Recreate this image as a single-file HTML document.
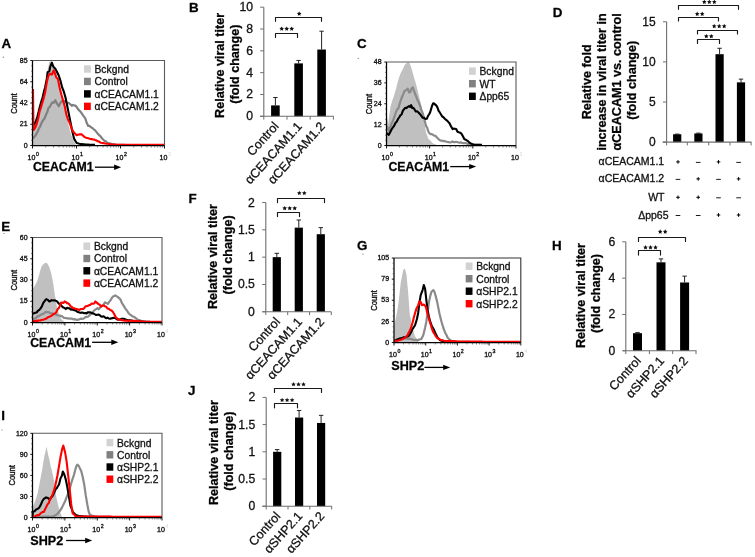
<!DOCTYPE html>
<html><head><meta charset="utf-8"><style>
html,body{margin:0;padding:0;background:#fff;}
body{width:755px;height:557px;overflow:hidden;}
svg{display:block;font-family:"Liberation Sans", sans-serif;will-change:transform;}
text{stroke:#111;stroke-width:0.3px;}
text.ns{stroke:none;}
</style></head><body>
<svg width="755" height="557" viewBox="0 0 755 557">
<rect width="755" height="557" fill="#fff"/>
<polygon points="32.5,145.5 33.12,128.42 34.26,126.2 35.4,124.64 36.54,123.29 37.68,119.08 38.81,115.9 39.95,111.34 41.09,105.44 42.23,101.46 43.37,95.98 44.65,88.96 45.93,80.61 47.63,70.37 49.34,61.83 51.05,61.49 52.76,65.24 54.04,66.97 55.32,70.37 56.6,74.08 57.88,80.61 59.16,85.04 60.44,89.15 61.72,95.19 63,99.39 64.28,105.63 65.56,111.34 66.84,117.31 68.12,123.29 69.4,128.53 70.68,133.54 71.96,136.87 73.25,140.37 74.53,142.51 75.81,144.98 75.81,145.5" fill="#c0c0c0"/><polyline points="33.12,138.66 34.26,136.75 35.4,135.78 36.54,133.54 37.68,131.62 38.81,128.62 39.95,126.71 41.09,124.15 42.23,121.55 43.37,119.88 44.65,118.21 45.93,114.76 47.21,112.33 48.49,107.93 49.77,106.69 51.05,104.51 52.33,102.28 53.61,102.81 55.32,100.25 57.03,103.66 58.73,106.22 60.44,102.81 62.15,101.1 63.85,101.1 65.56,101.95 66.84,102.7 68.12,102.81 69.4,103.56 70.68,104.51 71.82,105.8 72.96,104.94 74.1,105.37 75.38,105.58 76.66,107.07 78.37,109.64 80.07,111.34 81.35,112.81 82.64,114.76 83.92,116.61 85.2,118.17 86.9,123.29 88.18,125.99 89.46,125.86 90.6,126.83 91.74,127.71 92.88,128.42 94.02,129.53 95.16,130.42 96.29,131.83 97.66,133.52 99.02,135.08 100.38,136.2 101.74,138.01 103.1,139.5 104.45,140.74 105.8,141.35 107.15,142.76 108.5,143.3 109.75,143.28 111,143.88 112.25,144.1 113.5,144.37 114.75,144.63 116,144.9 117.29,144.9 118.57,144.9 119.86,144.9 121.14,144.9 122.43,144.9 123.71,144.9 125,144.9" fill="none" stroke="#808080" stroke-width="2.2" stroke-linejoin="round"/><polyline points="33.12,125.86 34.83,123.29 36.11,120.63 37.39,116.46 38.67,111.59 39.95,106.22 41.23,101.9 42.51,97.68 43.79,92.14 45.07,87.44 46.78,78.9 47.63,72.07 49.34,71.22 50.2,66.95 51.9,62.68 52.76,65.24 53.61,66.95 55.32,68.66 57.03,72.07 58.73,75.49 60.44,80.61 62.15,87.44 63.85,91.71 65.56,97.68 67.27,106.22 68.98,114.76 70.68,123.29 72.39,131.83 74.1,138.66 75.38,140.85 76.66,142.93 77.94,143.33 79.22,143.78 80.5,143.92 81.78,144.06 83.06,144.19 84.34,144.33 85.62,144.46 86.9,144.6 88.25,144.65 89.6,144.7 90.95,144.75 92.3,144.8 93.65,144.85 95,144.9" fill="none" stroke="#000" stroke-width="2.1" stroke-linejoin="round"/><polyline points="33,89 33.46,130.12 34.57,128.82 35.68,126.71 36.96,123.04 38.24,118.17 39.52,111.75 40.81,107.93 42.09,103.37 43.37,99.39 45.07,92.56 46.78,82.32 48.49,75.49 50.2,73.78 51.9,74.63 53.61,70.37 54.46,72.07 56.17,77.2 57.88,78.9 59.59,87.44 61.29,94.27 63,100.25 64.71,106.22 66.42,114.76 68.12,119.88 69.83,123.29 71.54,128.42 73.25,131.83 74.95,133.54 76.66,135.25 77.94,134.8 79.22,134.39 80.5,134.24 81.78,134.39 83.49,136.1 84.77,137.16 86.05,137.81 87.19,137.97 88.33,138.25 89.46,138.66 90.6,139.16 91.74,139.05 92.88,139.51 94.02,139.54 95.16,140.06 96.29,140.37 97.45,141.06 98.6,141.46 99.75,142.05 100.9,142.8 102.25,142.98 103.6,143.12 104.95,143.56 106.3,143.72 107.65,143.68 109,144 110.35,144.2 111.7,144.4 112.95,144.48 114.2,144.57 115.45,144.65 116.7,144.73 117.95,144.82 119.2,144.9 120.52,144.9 121.84,144.9 123.15,144.9 124.47,144.9 125.79,144.9 127.11,144.9 128.42,144.9 129.74,144.9 131.06,144.9 132.38,144.9 133.69,144.9 135.01,144.9 136.33,144.9 137.65,144.9 138.96,144.9 140.28,144.9 141.6,144.9 142.92,144.9 144.24,144.9 145.55,144.9 146.87,144.9 148.19,144.9 149.51,144.9 150.82,144.9 152.14,144.9 153.46,144.9 154.78,144.9 156.09,144.9 157.41,144.9 158.73,144.9 160.05,144.9 161.36,144.9 162.68,144.9 164,144.9" fill="none" stroke="#ff0000" stroke-width="2.1" stroke-linejoin="round"/><path d="M32.5 60.5 H164.5 V145.5" fill="none" stroke="#5a5a5a" stroke-width="1.1"/><path d="M32.5 60.5 V145.5 H164.5" fill="none" stroke="#000" stroke-width="1.25"/><line x1="30.3" y1="60.5" x2="32.5" y2="60.5" stroke="#000" stroke-width="0.9"/><text transform="translate(27.7 62.7) scale(1.1 1)" font-size="6.4" text-anchor="end" font-weight="normal" fill="#111" >85</text><line x1="31.1" y1="65.81" x2="32.5" y2="65.81" stroke="#333" stroke-width="0.6"/><line x1="31.1" y1="71.12" x2="32.5" y2="71.12" stroke="#333" stroke-width="0.6"/><line x1="31.1" y1="76.44" x2="32.5" y2="76.44" stroke="#333" stroke-width="0.6"/><line x1="30.3" y1="81.75" x2="32.5" y2="81.75" stroke="#000" stroke-width="0.9"/><text transform="translate(27.7 83.95) scale(1.1 1)" font-size="6.4" text-anchor="end" font-weight="normal" fill="#111" >64</text><line x1="31.1" y1="87.06" x2="32.5" y2="87.06" stroke="#333" stroke-width="0.6"/><line x1="31.1" y1="92.38" x2="32.5" y2="92.38" stroke="#333" stroke-width="0.6"/><line x1="31.1" y1="97.69" x2="32.5" y2="97.69" stroke="#333" stroke-width="0.6"/><line x1="30.3" y1="103" x2="32.5" y2="103" stroke="#000" stroke-width="0.9"/><text transform="translate(27.7 105.2) scale(1.1 1)" font-size="6.4" text-anchor="end" font-weight="normal" fill="#111" >42</text><line x1="31.1" y1="108.31" x2="32.5" y2="108.31" stroke="#333" stroke-width="0.6"/><line x1="31.1" y1="113.62" x2="32.5" y2="113.62" stroke="#333" stroke-width="0.6"/><line x1="31.1" y1="118.94" x2="32.5" y2="118.94" stroke="#333" stroke-width="0.6"/><line x1="30.3" y1="124.25" x2="32.5" y2="124.25" stroke="#000" stroke-width="0.9"/><text transform="translate(27.7 126.45) scale(1.1 1)" font-size="6.4" text-anchor="end" font-weight="normal" fill="#111" >21</text><line x1="31.1" y1="129.56" x2="32.5" y2="129.56" stroke="#333" stroke-width="0.6"/><line x1="31.1" y1="134.88" x2="32.5" y2="134.88" stroke="#333" stroke-width="0.6"/><line x1="31.1" y1="140.19" x2="32.5" y2="140.19" stroke="#333" stroke-width="0.6"/><line x1="30.3" y1="145.5" x2="32.5" y2="145.5" stroke="#000" stroke-width="0.9"/><text transform="translate(27.7 147.7) scale(1.1 1)" font-size="6.4" text-anchor="end" font-weight="normal" fill="#111" >0</text><line x1="32.5" y1="145.5" x2="32.5" y2="148.5" stroke="#000" stroke-width="0.9"/><line x1="45.75" y1="145.5" x2="45.75" y2="147.5" stroke="#333" stroke-width="0.6"/><line x1="53.49" y1="145.5" x2="53.49" y2="147.5" stroke="#333" stroke-width="0.6"/><line x1="58.99" y1="145.5" x2="58.99" y2="147.5" stroke="#333" stroke-width="0.6"/><line x1="63.25" y1="145.5" x2="63.25" y2="147.5" stroke="#333" stroke-width="0.6"/><line x1="66.74" y1="145.5" x2="66.74" y2="147.5" stroke="#333" stroke-width="0.6"/><line x1="69.68" y1="145.5" x2="69.68" y2="147.5" stroke="#333" stroke-width="0.6"/><line x1="72.24" y1="145.5" x2="72.24" y2="147.5" stroke="#333" stroke-width="0.6"/><line x1="74.49" y1="145.5" x2="74.49" y2="147.5" stroke="#333" stroke-width="0.6"/><text transform="translate(31.5 159.7) scale(1.1 1)" font-size="6.4" text-anchor="middle" font-weight="normal" fill="#111" >10</text><text transform="translate(35.9 155.5) scale(1.1 1)" font-size="4.8" text-anchor="start" font-weight="normal" fill="#111" >0</text><line x1="76.5" y1="145.5" x2="76.5" y2="148.5" stroke="#000" stroke-width="0.9"/><line x1="89.75" y1="145.5" x2="89.75" y2="147.5" stroke="#333" stroke-width="0.6"/><line x1="97.49" y1="145.5" x2="97.49" y2="147.5" stroke="#333" stroke-width="0.6"/><line x1="102.99" y1="145.5" x2="102.99" y2="147.5" stroke="#333" stroke-width="0.6"/><line x1="107.25" y1="145.5" x2="107.25" y2="147.5" stroke="#333" stroke-width="0.6"/><line x1="110.74" y1="145.5" x2="110.74" y2="147.5" stroke="#333" stroke-width="0.6"/><line x1="113.68" y1="145.5" x2="113.68" y2="147.5" stroke="#333" stroke-width="0.6"/><line x1="116.24" y1="145.5" x2="116.24" y2="147.5" stroke="#333" stroke-width="0.6"/><line x1="118.49" y1="145.5" x2="118.49" y2="147.5" stroke="#333" stroke-width="0.6"/><text transform="translate(75.5 159.7) scale(1.1 1)" font-size="6.4" text-anchor="middle" font-weight="normal" fill="#111" >10</text><text transform="translate(79.9 155.5) scale(1.1 1)" font-size="4.8" text-anchor="start" font-weight="normal" fill="#111" >1</text><line x1="120.5" y1="145.5" x2="120.5" y2="148.5" stroke="#000" stroke-width="0.9"/><line x1="133.75" y1="145.5" x2="133.75" y2="147.5" stroke="#333" stroke-width="0.6"/><line x1="141.49" y1="145.5" x2="141.49" y2="147.5" stroke="#333" stroke-width="0.6"/><line x1="146.99" y1="145.5" x2="146.99" y2="147.5" stroke="#333" stroke-width="0.6"/><line x1="151.25" y1="145.5" x2="151.25" y2="147.5" stroke="#333" stroke-width="0.6"/><line x1="154.74" y1="145.5" x2="154.74" y2="147.5" stroke="#333" stroke-width="0.6"/><line x1="157.68" y1="145.5" x2="157.68" y2="147.5" stroke="#333" stroke-width="0.6"/><line x1="160.24" y1="145.5" x2="160.24" y2="147.5" stroke="#333" stroke-width="0.6"/><line x1="162.49" y1="145.5" x2="162.49" y2="147.5" stroke="#333" stroke-width="0.6"/><text transform="translate(119.5 159.7) scale(1.1 1)" font-size="6.4" text-anchor="middle" font-weight="normal" fill="#111" >10</text><text transform="translate(123.9 155.5) scale(1.1 1)" font-size="4.8" text-anchor="start" font-weight="normal" fill="#111" >2</text><line x1="164.5" y1="145.5" x2="164.5" y2="148.5" stroke="#000" stroke-width="0.9"/><text transform="translate(163.5 159.7) scale(1.1 1)" font-size="6.4" text-anchor="middle" font-weight="normal" fill="#111" >10</text><text transform="translate(167.9 155.5) scale(1.1 1)" font-size="4.8" text-anchor="start" font-weight="normal" fill="#d8d8d8" class="ns">3</text><text transform="translate(17.4 103.5) scale(1.28 1) rotate(-90)" font-size="7.7" text-anchor="middle" font-weight="normal" fill="#111" >Count</text><rect x="84" y="65.3" width="6.8" height="7.4" fill="#d2d2d2"/><text transform="translate(94.5 72.9) scale(1.01 1)" font-size="10.2" text-anchor="start" font-weight="normal" fill="#111" >Bckgnd</text><rect x="84" y="77.75" width="6.8" height="7.4" fill="#808080"/><text transform="translate(94.5 85.35) scale(1.01 1)" font-size="10.2" text-anchor="start" font-weight="normal" fill="#111" >Control</text><rect x="84" y="90.2" width="6.8" height="7.4" fill="#000"/><text transform="translate(94.5 97.8) scale(1.01 1)" font-size="10.2" text-anchor="start" font-weight="normal" fill="#111" >&#945;CEACAM1.1</text><rect x="84" y="102.65" width="6.8" height="7.4" fill="#ff0000"/><text transform="translate(94.5 110.25) scale(1.01 1)" font-size="10.2" text-anchor="start" font-weight="normal" fill="#111" >&#945;CEACAM1.2</text><text x="32.9" y="171.1" font-size="12.3" text-anchor="start" font-weight="bold" fill="#000" >CEACAM1</text><line x1="94.9" y1="167.2" x2="116.1" y2="167.2" stroke="#000" stroke-width="1.3"/><polygon points="114.1,164.5 121.1,167.2 114.1,169.9" fill="#000"/><text x="1.5" y="47.9" font-size="13.4" text-anchor="start" font-weight="bold" fill="#000" >A</text><circle cx="3.3" cy="57.2" r="0.6" fill="#666"/><polygon points="386.5,145.5 386.6,113 388.2,124 389.35,114.82 390.5,106.5 392.1,101.1 393.7,96.8 394.9,92.45 396.1,88.7 397.35,83.22 398.6,79 400.2,74.21 401.8,70.9 403.4,67.9 405,64.5 406.45,63.35 407.9,62 409.3,62.83 410.7,66.1 411.9,69.68 413.1,74.2 414.3,78.58 415.5,82.3 416.75,86.99 418,92 419.2,96.92 420.4,101.7 421.6,107.72 422.8,113 424.4,122.7 426,132.4 427.25,135.77 428.5,138.9 429.83,140.12 431.17,141.62 432.5,142.9 433.6,143.73 434.7,143.9 435.8,144.5 436.9,145 438,145.5 438,145.5" fill="#c0c0c0"/><polyline points="386.6,126 387.7,127.76 388.8,131 390.17,127.27 391.53,123.74 392.9,120.8 394.45,116.73 396,112 397.17,109.34 398.33,108.62 399.5,104.3 400.75,100.42 402,97 403.25,94.11 404.5,91 405.6,90.31 406.7,89.54 407.8,88.6 409.05,92.43 410.3,91.9 411.55,88.55 412.8,87.4 414.4,92.01 416,96 417.4,99.71 418.8,102.51 420.2,106 421.3,109.9 422.4,112.43 423.5,115.9 424.75,120.95 426,125.8 427.1,127.56 428.2,131.19 429.3,133.2 430.52,134.16 431.75,134.11 432.98,134.81 434.2,135.7 435.45,135.78 436.7,137.33 437.95,138.57 439.2,139.8 440.52,140.63 441.84,140.58 443.16,141.15 444.48,140.96 445.8,141.5 447.2,141.85 448.6,142.07 450,142.5 451.18,142.22 452.36,141.48 453.54,142.13 454.72,142.12 455.9,141.8 457.12,142 458.34,142.48 459.56,142.57 460.78,142.31 462,143 463.5,143.12 465,143.04 466.5,143.4 467.82,143.92 469.15,144.15 470.48,144.53 471.8,144.9 473.17,144.9 474.53,144.9 475.9,144.9 477.27,144.9 478.63,144.9 480,144.9" fill="none" stroke="#8a8a8a" stroke-width="2.2" stroke-linejoin="round"/><polyline points="386.6,133 387.7,134.02 388.8,134.9 390.17,132.18 391.53,129.51 392.9,127.4 394.15,125.75 395.4,122.98 396.65,121.82 397.9,119.2 399.12,117.49 400.35,115.38 401.57,114.48 402.8,110.9 404.05,109.15 405.3,107.83 406.55,108.11 407.8,106.8 408.9,106.14 410,107 411.1,105.1 412.2,108.12 413.3,107.77 414.4,109.2 415.77,111.45 417.13,111.3 418.5,112.5 419.9,113.98 421.3,115.91 422.7,117.8 424.07,117.84 425.43,118.96 426.8,118.8 427.9,116.16 429,114.49 430.1,112.5 432,106 433.1,103.35 434.2,103.5 435.3,104.66 436.4,105.63 437.5,107.6 438.63,110.93 439.77,112.47 440.9,114.2 442.05,116.28 443.2,117 444.8,118.7 446.4,120.1 447.95,121.62 449.5,123.3 451.1,126.43 452.7,129.1 453.75,128.66 454.8,128.8 456.15,128.99 457.5,131.8 458.73,132.31 459.97,132.62 461.2,133.4 462.8,135.99 464.4,139.2 465.95,139.77 467.5,140.8 469.1,142.27 470.7,143.4 472.13,144.04 473.57,144.4 475,144.9 476.4,144.9 477.8,144.9 479.2,144.9 480.6,144.9 482,144.9" fill="none" stroke="#000" stroke-width="2.1" stroke-linejoin="round"/><path d="M386.5 62 H516 V145.5" fill="none" stroke="#5a5a5a" stroke-width="1.1"/><path d="M386.5 62 V145.5 H516" fill="none" stroke="#000" stroke-width="1.25"/><line x1="384.3" y1="62" x2="386.5" y2="62" stroke="#000" stroke-width="0.9"/><text transform="translate(381.7 64.2) scale(1.1 1)" font-size="6.4" text-anchor="end" font-weight="normal" fill="#111" >48</text><line x1="385.1" y1="67.22" x2="386.5" y2="67.22" stroke="#333" stroke-width="0.6"/><line x1="385.1" y1="72.44" x2="386.5" y2="72.44" stroke="#333" stroke-width="0.6"/><line x1="385.1" y1="77.66" x2="386.5" y2="77.66" stroke="#333" stroke-width="0.6"/><line x1="384.3" y1="82.88" x2="386.5" y2="82.88" stroke="#000" stroke-width="0.9"/><text transform="translate(381.7 85.08) scale(1.1 1)" font-size="6.4" text-anchor="end" font-weight="normal" fill="#111" >36</text><line x1="385.1" y1="88.09" x2="386.5" y2="88.09" stroke="#333" stroke-width="0.6"/><line x1="385.1" y1="93.31" x2="386.5" y2="93.31" stroke="#333" stroke-width="0.6"/><line x1="385.1" y1="98.53" x2="386.5" y2="98.53" stroke="#333" stroke-width="0.6"/><line x1="384.3" y1="103.75" x2="386.5" y2="103.75" stroke="#000" stroke-width="0.9"/><text transform="translate(381.7 105.95) scale(1.1 1)" font-size="6.4" text-anchor="end" font-weight="normal" fill="#111" >24</text><line x1="385.1" y1="108.97" x2="386.5" y2="108.97" stroke="#333" stroke-width="0.6"/><line x1="385.1" y1="114.19" x2="386.5" y2="114.19" stroke="#333" stroke-width="0.6"/><line x1="385.1" y1="119.41" x2="386.5" y2="119.41" stroke="#333" stroke-width="0.6"/><line x1="384.3" y1="124.62" x2="386.5" y2="124.62" stroke="#000" stroke-width="0.9"/><text transform="translate(381.7 126.83) scale(1.1 1)" font-size="6.4" text-anchor="end" font-weight="normal" fill="#111" >12</text><line x1="385.1" y1="129.84" x2="386.5" y2="129.84" stroke="#333" stroke-width="0.6"/><line x1="385.1" y1="135.06" x2="386.5" y2="135.06" stroke="#333" stroke-width="0.6"/><line x1="385.1" y1="140.28" x2="386.5" y2="140.28" stroke="#333" stroke-width="0.6"/><line x1="384.3" y1="145.5" x2="386.5" y2="145.5" stroke="#000" stroke-width="0.9"/><text transform="translate(381.7 147.7) scale(1.1 1)" font-size="6.4" text-anchor="end" font-weight="normal" fill="#111" >0</text><line x1="386.5" y1="145.5" x2="386.5" y2="148.5" stroke="#000" stroke-width="0.9"/><line x1="399.49" y1="145.5" x2="399.49" y2="147.5" stroke="#333" stroke-width="0.6"/><line x1="407.1" y1="145.5" x2="407.1" y2="147.5" stroke="#333" stroke-width="0.6"/><line x1="412.49" y1="145.5" x2="412.49" y2="147.5" stroke="#333" stroke-width="0.6"/><line x1="416.67" y1="145.5" x2="416.67" y2="147.5" stroke="#333" stroke-width="0.6"/><line x1="420.09" y1="145.5" x2="420.09" y2="147.5" stroke="#333" stroke-width="0.6"/><line x1="422.98" y1="145.5" x2="422.98" y2="147.5" stroke="#333" stroke-width="0.6"/><line x1="425.48" y1="145.5" x2="425.48" y2="147.5" stroke="#333" stroke-width="0.6"/><line x1="427.69" y1="145.5" x2="427.69" y2="147.5" stroke="#333" stroke-width="0.6"/><text transform="translate(385.5 159.7) scale(1.1 1)" font-size="6.4" text-anchor="middle" font-weight="normal" fill="#111" >10</text><text transform="translate(389.9 155.5) scale(1.1 1)" font-size="4.8" text-anchor="start" font-weight="normal" fill="#111" >0</text><line x1="429.67" y1="145.5" x2="429.67" y2="148.5" stroke="#000" stroke-width="0.9"/><line x1="442.66" y1="145.5" x2="442.66" y2="147.5" stroke="#333" stroke-width="0.6"/><line x1="450.26" y1="145.5" x2="450.26" y2="147.5" stroke="#333" stroke-width="0.6"/><line x1="455.66" y1="145.5" x2="455.66" y2="147.5" stroke="#333" stroke-width="0.6"/><line x1="459.84" y1="145.5" x2="459.84" y2="147.5" stroke="#333" stroke-width="0.6"/><line x1="463.26" y1="145.5" x2="463.26" y2="147.5" stroke="#333" stroke-width="0.6"/><line x1="466.15" y1="145.5" x2="466.15" y2="147.5" stroke="#333" stroke-width="0.6"/><line x1="468.65" y1="145.5" x2="468.65" y2="147.5" stroke="#333" stroke-width="0.6"/><line x1="470.86" y1="145.5" x2="470.86" y2="147.5" stroke="#333" stroke-width="0.6"/><text transform="translate(428.67 159.7) scale(1.1 1)" font-size="6.4" text-anchor="middle" font-weight="normal" fill="#111" >10</text><text transform="translate(433.07 155.5) scale(1.1 1)" font-size="4.8" text-anchor="start" font-weight="normal" fill="#111" >1</text><line x1="472.83" y1="145.5" x2="472.83" y2="148.5" stroke="#000" stroke-width="0.9"/><line x1="485.83" y1="145.5" x2="485.83" y2="147.5" stroke="#333" stroke-width="0.6"/><line x1="493.43" y1="145.5" x2="493.43" y2="147.5" stroke="#333" stroke-width="0.6"/><line x1="498.82" y1="145.5" x2="498.82" y2="147.5" stroke="#333" stroke-width="0.6"/><line x1="503.01" y1="145.5" x2="503.01" y2="147.5" stroke="#333" stroke-width="0.6"/><line x1="506.42" y1="145.5" x2="506.42" y2="147.5" stroke="#333" stroke-width="0.6"/><line x1="509.31" y1="145.5" x2="509.31" y2="147.5" stroke="#333" stroke-width="0.6"/><line x1="511.82" y1="145.5" x2="511.82" y2="147.5" stroke="#333" stroke-width="0.6"/><line x1="514.02" y1="145.5" x2="514.02" y2="147.5" stroke="#333" stroke-width="0.6"/><text transform="translate(471.83 159.7) scale(1.1 1)" font-size="6.4" text-anchor="middle" font-weight="normal" fill="#111" >10</text><text transform="translate(476.23 155.5) scale(1.1 1)" font-size="4.8" text-anchor="start" font-weight="normal" fill="#111" >2</text><line x1="516" y1="145.5" x2="516" y2="148.5" stroke="#000" stroke-width="0.9"/><text transform="translate(515 159.7) scale(1.1 1)" font-size="6.4" text-anchor="middle" font-weight="normal" fill="#111" >10</text><text transform="translate(519.4 155.5) scale(1.1 1)" font-size="4.8" text-anchor="start" font-weight="normal" fill="#d8d8d8" class="ns">3</text><text transform="translate(371.5 104) scale(1.28 1) rotate(-90)" font-size="7.7" text-anchor="middle" font-weight="normal" fill="#111" >Count</text><rect x="469" y="67.4" width="6.8" height="7.4" fill="#d2d2d2"/><text transform="translate(479.5 75) scale(1.01 1)" font-size="10.2" text-anchor="start" font-weight="normal" fill="#111" >Bckgnd</text><rect x="469" y="80" width="6.8" height="7.4" fill="#808080"/><text transform="translate(479.5 87.6) scale(1.01 1)" font-size="10.2" text-anchor="start" font-weight="normal" fill="#111" >WT</text><rect x="469" y="92.6" width="6.8" height="7.4" fill="#000"/><text transform="translate(479.5 100.2) scale(1.01 1)" font-size="10.2" text-anchor="start" font-weight="normal" fill="#111" >&#916;pp65</text><text x="388.4" y="170.5" font-size="12.3" text-anchor="start" font-weight="bold" fill="#000" >CEACAM1</text><line x1="450.2" y1="166.6" x2="471.2" y2="166.6" stroke="#000" stroke-width="1.3"/><polygon points="469.2,163.9 476.2,166.6 469.2,169.3" fill="#000"/><text x="357.1" y="48.3" font-size="13.4" text-anchor="start" font-weight="bold" fill="#000" >C</text><circle cx="358.2" cy="58.3" r="0.6" fill="#666"/><polygon points="32.5,322.5 32.8,289 34,287.11 35.2,285 36.35,282.73 37.5,280.2 38.75,275.95 40,271.4 41.3,267.12 42.6,265 44.5,263.2 46,262.8 47.6,263.8 49.5,267.6 51.4,273.9 53.3,283.9 54.5,292.7 55.8,300.3 57,307.8 58.9,314.1 60.15,316.58 61.4,319.2 62.7,320.36 64,321.7 65,322.1 66,322.5 66,322.5" fill="#c0c0c0"/><polyline points="32.6,319.9 33.9,318.86 35.2,318.3 36.5,317.32 37.8,316.2 39.02,316.05 40.25,315.16 41.48,314.47 42.7,313.8 43.9,313.62 45.1,312.26 46.3,311.9 47.53,312.27 48.77,312.19 50,313.1 51.23,313.32 52.45,313.65 53.67,314.44 54.9,314.4 56.12,314.42 57.35,315.27 58.57,315.49 59.8,315.6 61,315.92 62.2,316.35 63.4,317.45 64.6,318 65.84,318.01 67.08,318.37 68.32,318.47 69.56,318.56 70.8,318.6 72.02,318.67 73.24,319.42 74.46,319.15 75.68,319.48 76.9,319.9 78.12,319.64 79.34,319.44 80.56,318.67 81.78,318.89 83,318.6 84.22,318.24 85.44,317.13 86.66,316.93 87.88,316.76 89.1,315.6 90.28,314.44 91.46,313.78 92.64,312.49 93.82,310.75 95,309.8 96.22,309.11 97.45,308.12 98.68,309.26 99.9,307.8 101.15,306.33 102.4,305.32 103.65,304.57 104.9,302.4 106.4,302.92 107.9,303.8 109.23,301.8 110.57,300.23 111.9,297.9 113.03,296.59 114.17,296.02 115.3,295.4 116.47,296.12 117.63,296.85 118.8,297.9 120.3,299.29 121.8,302.8 123.13,304.83 124.47,307.1 125.8,309.3 127.1,310.7 128.4,312.92 129.7,314.3 131.03,315.17 132.37,316.33 133.7,316.8 135.03,317.54 136.37,318.56 137.7,319.7 139.03,320.14 140.37,320.62 141.7,321.2 143.13,321.43 144.57,321.67 146,321.9" fill="none" stroke="#8a8a8a" stroke-width="2.2" stroke-linejoin="round"/><polyline points="32.6,313.8 33.93,313.3 35.27,312.75 36.6,312.5 37.8,310.99 39,310.22 40.2,308.9 41.75,306.55 43.3,302.8 44.8,300.79 46.3,299.1 47.85,299.93 49.4,301.5 50.6,300.77 51.8,300.15 53,300.5 54.55,300.21 56.1,300.9 57.33,301.58 58.57,303.43 59.8,304 61,305.3 62.2,306.63 63.4,307.6 64.62,307.91 65.85,309.09 67.08,307.74 68.3,308.3 69.52,308.21 70.74,309.68 71.96,309.17 73.18,309.98 74.4,310.1 75.62,310.36 76.85,311.45 78.08,312.07 79.3,312.5 80.52,312.84 81.74,312.45 82.96,312.84 84.18,313.31 85.4,313.1 86.55,313.43 87.7,312.38 88.85,312.36 90,312.2 91.25,312.67 92.5,313.42 93.75,313.52 95,314.3 96.22,315 97.45,314.77 98.68,314.55 99.9,315.3 101.15,316.45 102.4,316.66 103.65,316.25 104.9,317.3 106.15,318.23 107.4,317.64 108.65,318.41 109.9,318.7 111.2,318.39 112.5,318.11 113.8,317.7 115.13,317.98 116.47,318.96 117.8,319.7 119,319.49 120.2,319.43 121.4,318.85 122.6,318.73 123.8,318.7 125.1,319.3 126.4,319.72 127.7,320.2 128.95,320.26 130.2,320.18 131.45,320.41 132.7,320.7 134.1,320.93 135.5,321.06 136.9,321.24 138.3,321.42 139.7,321.6 140.99,321.64 142.27,321.68 143.56,321.71 144.85,321.75 146.14,321.79 147.43,321.82 148.71,321.86 150,321.9" fill="none" stroke="#000" stroke-width="2.1" stroke-linejoin="round"/><polyline points="32.6,321.1 33.87,321 35.13,321.05 36.4,320.64 37.67,320.88 38.93,320.51 40.2,320.5 41.42,319.92 42.64,319.73 43.86,319.41 45.08,318.99 46.3,318.6 47.52,317.5 48.74,316.88 49.96,316.48 51.18,315.97 52.4,315 53.63,313.81 54.87,313.5 56.1,312.5 57.65,309.18 59.2,307.6 61,302.8 62.25,302.48 63.5,303 64.7,301.36 65.9,302.1 67.1,303.16 68.3,303.39 69.5,304.6 70.73,306.37 71.97,307.11 73.2,308.3 74.42,308.2 75.64,309.07 76.86,309.07 78.08,309.3 79.3,310.1 80.53,309.02 81.75,308.96 82.97,308.96 84.2,308.3 85.42,306.24 86.65,306.28 87.88,305.78 89.1,305.2 90.4,304.67 91.7,303.49 93,303.8 94.17,303.54 95.33,301.46 96.5,302.4 97.63,303.35 98.77,304.35 99.9,304.8 101.15,306.72 102.4,305.73 103.65,305.43 104.9,306.3 106.23,306.8 107.57,308.67 108.9,308.8 110.2,310.05 111.5,310.45 112.8,311.8 114.3,314.28 115.8,317.3 117.3,318.65 118.8,319.7 120,319.62 121.2,320.1 122.4,320.01 123.6,320.55 124.8,320.7 126.04,320.5 127.27,320.74 128.51,321.12 129.75,320.84 130.99,320.46 132.22,320.71 133.46,320.89 134.7,320.9 135.94,321 137.17,321.1 138.41,321.2 139.65,321.3 140.89,321.4 142.12,321.5 143.36,321.6 144.6,321.7 145.94,321.72 147.28,321.73 148.62,321.75 149.95,321.76 151.29,321.78 152.63,321.79 153.97,321.81 155.31,321.82 156.65,321.84 157.98,321.85 159.32,321.87 160.66,321.88 162,321.9" fill="none" stroke="#ff0000" stroke-width="2.1" stroke-linejoin="round"/><path d="M32.5 237.5 H162 V322.5" fill="none" stroke="#5a5a5a" stroke-width="1.1"/><path d="M32.5 237.5 V322.5 H162" fill="none" stroke="#000" stroke-width="1.25"/><line x1="30.3" y1="237.5" x2="32.5" y2="237.5" stroke="#000" stroke-width="0.9"/><text transform="translate(27.7 239.7) scale(1.1 1)" font-size="6.4" text-anchor="end" font-weight="normal" fill="#111" >60</text><line x1="31.1" y1="242.81" x2="32.5" y2="242.81" stroke="#333" stroke-width="0.6"/><line x1="31.1" y1="248.12" x2="32.5" y2="248.12" stroke="#333" stroke-width="0.6"/><line x1="31.1" y1="253.44" x2="32.5" y2="253.44" stroke="#333" stroke-width="0.6"/><line x1="30.3" y1="258.75" x2="32.5" y2="258.75" stroke="#000" stroke-width="0.9"/><text transform="translate(27.7 260.95) scale(1.1 1)" font-size="6.4" text-anchor="end" font-weight="normal" fill="#111" >45</text><line x1="31.1" y1="264.06" x2="32.5" y2="264.06" stroke="#333" stroke-width="0.6"/><line x1="31.1" y1="269.38" x2="32.5" y2="269.38" stroke="#333" stroke-width="0.6"/><line x1="31.1" y1="274.69" x2="32.5" y2="274.69" stroke="#333" stroke-width="0.6"/><line x1="30.3" y1="280" x2="32.5" y2="280" stroke="#000" stroke-width="0.9"/><text transform="translate(27.7 282.2) scale(1.1 1)" font-size="6.4" text-anchor="end" font-weight="normal" fill="#111" >30</text><line x1="31.1" y1="285.31" x2="32.5" y2="285.31" stroke="#333" stroke-width="0.6"/><line x1="31.1" y1="290.62" x2="32.5" y2="290.62" stroke="#333" stroke-width="0.6"/><line x1="31.1" y1="295.94" x2="32.5" y2="295.94" stroke="#333" stroke-width="0.6"/><line x1="30.3" y1="301.25" x2="32.5" y2="301.25" stroke="#000" stroke-width="0.9"/><text transform="translate(27.7 303.45) scale(1.1 1)" font-size="6.4" text-anchor="end" font-weight="normal" fill="#111" >15</text><line x1="31.1" y1="306.56" x2="32.5" y2="306.56" stroke="#333" stroke-width="0.6"/><line x1="31.1" y1="311.88" x2="32.5" y2="311.88" stroke="#333" stroke-width="0.6"/><line x1="31.1" y1="317.19" x2="32.5" y2="317.19" stroke="#333" stroke-width="0.6"/><line x1="30.3" y1="322.5" x2="32.5" y2="322.5" stroke="#000" stroke-width="0.9"/><text transform="translate(27.7 324.7) scale(1.1 1)" font-size="6.4" text-anchor="end" font-weight="normal" fill="#111" >0</text><line x1="32.5" y1="322.5" x2="32.5" y2="325.5" stroke="#000" stroke-width="0.9"/><line x1="42.25" y1="322.5" x2="42.25" y2="324.5" stroke="#333" stroke-width="0.6"/><line x1="47.95" y1="322.5" x2="47.95" y2="324.5" stroke="#333" stroke-width="0.6"/><line x1="51.99" y1="322.5" x2="51.99" y2="324.5" stroke="#333" stroke-width="0.6"/><line x1="55.13" y1="322.5" x2="55.13" y2="324.5" stroke="#333" stroke-width="0.6"/><line x1="57.69" y1="322.5" x2="57.69" y2="324.5" stroke="#333" stroke-width="0.6"/><line x1="59.86" y1="322.5" x2="59.86" y2="324.5" stroke="#333" stroke-width="0.6"/><line x1="61.74" y1="322.5" x2="61.74" y2="324.5" stroke="#333" stroke-width="0.6"/><line x1="63.39" y1="322.5" x2="63.39" y2="324.5" stroke="#333" stroke-width="0.6"/><text transform="translate(31.5 336.7) scale(1.1 1)" font-size="6.4" text-anchor="middle" font-weight="normal" fill="#111" >10</text><text transform="translate(35.9 332.5) scale(1.1 1)" font-size="4.8" text-anchor="start" font-weight="normal" fill="#111" >0</text><line x1="64.88" y1="322.5" x2="64.88" y2="325.5" stroke="#000" stroke-width="0.9"/><line x1="74.62" y1="322.5" x2="74.62" y2="324.5" stroke="#333" stroke-width="0.6"/><line x1="80.32" y1="322.5" x2="80.32" y2="324.5" stroke="#333" stroke-width="0.6"/><line x1="84.37" y1="322.5" x2="84.37" y2="324.5" stroke="#333" stroke-width="0.6"/><line x1="87.5" y1="322.5" x2="87.5" y2="324.5" stroke="#333" stroke-width="0.6"/><line x1="90.07" y1="322.5" x2="90.07" y2="324.5" stroke="#333" stroke-width="0.6"/><line x1="92.24" y1="322.5" x2="92.24" y2="324.5" stroke="#333" stroke-width="0.6"/><line x1="94.11" y1="322.5" x2="94.11" y2="324.5" stroke="#333" stroke-width="0.6"/><line x1="95.77" y1="322.5" x2="95.77" y2="324.5" stroke="#333" stroke-width="0.6"/><text transform="translate(63.88 336.7) scale(1.1 1)" font-size="6.4" text-anchor="middle" font-weight="normal" fill="#111" >10</text><text transform="translate(68.28 332.5) scale(1.1 1)" font-size="4.8" text-anchor="start" font-weight="normal" fill="#111" >1</text><line x1="97.25" y1="322.5" x2="97.25" y2="325.5" stroke="#000" stroke-width="0.9"/><line x1="107" y1="322.5" x2="107" y2="324.5" stroke="#333" stroke-width="0.6"/><line x1="112.7" y1="322.5" x2="112.7" y2="324.5" stroke="#333" stroke-width="0.6"/><line x1="116.74" y1="322.5" x2="116.74" y2="324.5" stroke="#333" stroke-width="0.6"/><line x1="119.88" y1="322.5" x2="119.88" y2="324.5" stroke="#333" stroke-width="0.6"/><line x1="122.44" y1="322.5" x2="122.44" y2="324.5" stroke="#333" stroke-width="0.6"/><line x1="124.61" y1="322.5" x2="124.61" y2="324.5" stroke="#333" stroke-width="0.6"/><line x1="126.49" y1="322.5" x2="126.49" y2="324.5" stroke="#333" stroke-width="0.6"/><line x1="128.14" y1="322.5" x2="128.14" y2="324.5" stroke="#333" stroke-width="0.6"/><text transform="translate(96.25 336.7) scale(1.1 1)" font-size="6.4" text-anchor="middle" font-weight="normal" fill="#111" >10</text><text transform="translate(100.65 332.5) scale(1.1 1)" font-size="4.8" text-anchor="start" font-weight="normal" fill="#111" >2</text><line x1="129.62" y1="322.5" x2="129.62" y2="325.5" stroke="#000" stroke-width="0.9"/><line x1="139.37" y1="322.5" x2="139.37" y2="324.5" stroke="#333" stroke-width="0.6"/><line x1="145.07" y1="322.5" x2="145.07" y2="324.5" stroke="#333" stroke-width="0.6"/><line x1="149.12" y1="322.5" x2="149.12" y2="324.5" stroke="#333" stroke-width="0.6"/><line x1="152.25" y1="322.5" x2="152.25" y2="324.5" stroke="#333" stroke-width="0.6"/><line x1="154.82" y1="322.5" x2="154.82" y2="324.5" stroke="#333" stroke-width="0.6"/><line x1="156.99" y1="322.5" x2="156.99" y2="324.5" stroke="#333" stroke-width="0.6"/><line x1="158.86" y1="322.5" x2="158.86" y2="324.5" stroke="#333" stroke-width="0.6"/><line x1="160.52" y1="322.5" x2="160.52" y2="324.5" stroke="#333" stroke-width="0.6"/><text transform="translate(128.62 336.7) scale(1.1 1)" font-size="6.4" text-anchor="middle" font-weight="normal" fill="#111" >10</text><text transform="translate(133.03 332.5) scale(1.1 1)" font-size="4.8" text-anchor="start" font-weight="normal" fill="#111" >3</text><line x1="162" y1="322.5" x2="162" y2="325.5" stroke="#000" stroke-width="0.9"/><text transform="translate(161 336.7) scale(1.1 1)" font-size="6.4" text-anchor="middle" font-weight="normal" fill="#111" >10</text><text transform="translate(165.4 332.5) scale(1.1 1)" font-size="4.8" text-anchor="start" font-weight="normal" fill="#d8d8d8" class="ns">4</text><text transform="translate(17.4 280.2) scale(1.28 1) rotate(-90)" font-size="7.7" text-anchor="middle" font-weight="normal" fill="#111" >Count</text><rect x="83.4" y="242.5" width="6.8" height="7.4" fill="#d2d2d2"/><text transform="translate(93.9 250.1) scale(1.01 1)" font-size="10.2" text-anchor="start" font-weight="normal" fill="#111" >Bckgnd</text><rect x="83.4" y="254.8" width="6.8" height="7.4" fill="#808080"/><text transform="translate(93.9 262.4) scale(1.01 1)" font-size="10.2" text-anchor="start" font-weight="normal" fill="#111" >Control</text><rect x="83.4" y="267.1" width="6.8" height="7.4" fill="#000"/><text transform="translate(93.9 274.7) scale(1.01 1)" font-size="10.2" text-anchor="start" font-weight="normal" fill="#111" >&#945;CEACAM1.1</text><rect x="83.4" y="279.4" width="6.8" height="7.4" fill="#ff0000"/><text transform="translate(93.9 287) scale(1.01 1)" font-size="10.2" text-anchor="start" font-weight="normal" fill="#111" >&#945;CEACAM1.2</text><text x="30.2" y="346.6" font-size="12.3" text-anchor="start" font-weight="bold" fill="#000" >CEACAM1</text><line x1="92.1" y1="342.3" x2="113.3" y2="342.3" stroke="#000" stroke-width="1.3"/><polygon points="111.3,339.6 118.3,342.3 111.3,345" fill="#000"/><text x="1.3" y="231" font-size="13.4" text-anchor="start" font-weight="bold" fill="#000" >E</text><circle cx="4" cy="233.5" r="0.6" fill="#666"/><polygon points="394,342.5 394.5,324.3 395.5,319.67 396.5,315 398.3,304.5 399.5,294.12 400.7,283.1 401.95,276.56 403.2,269.9 404.9,268.5 406.5,274.8 408.2,293 409.8,314.4 411.05,320.73 412.3,327.6 413.55,331.55 414.8,335.9 416.17,338.04 417.53,340.51 418.9,342.3 418.9,342.5" fill="#c0c0c0"/><polyline points="394.4,340.9 395.74,340.47 397.09,340.5 398.43,339.99 399.78,339.59 401.12,339.33 402.47,339.2 403.81,338.8 405.16,338.49 406.5,338.4 407.88,338.94 409.27,338.95 410.65,338.79 412.03,339.38 413.42,339.78 414.8,340 416.18,339.87 417.56,340.33 418.82,339.66 420.08,339.29 421.33,339.07 423.22,335.3 425.1,327.76 426.36,321.48 427.61,312.69 428.87,302.64 430.13,296.36 431.38,291.96 433.27,290.08 434.52,291.96 435.78,296.36 437.04,301.38 438.29,307.66 439.55,313.94 441.43,321.48 443.32,327.76 445.2,332.79 446.46,335.01 447.71,337.81 448.97,338.96 450.23,340.33 451.48,340.88 452.74,341.21 453.83,341.44 454.91,341.67 456,341.9 457.27,341.9 458.55,341.9 459.82,341.9 461.09,341.9 462.36,341.9 463.64,341.9 464.91,341.9 466.18,341.9 467.45,341.9 468.73,341.9 470,341.9" fill="none" stroke="#8a8a8a" stroke-width="2.2" stroke-linejoin="round"/><polyline points="394.4,340.9 395.77,340.14 397.15,339.52 398.52,338.88 399.9,338.4 401.17,338.18 402.45,337.88 403.73,337.32 405,337.19 406.26,336.82 407.51,336.56 408.77,335.76 410.03,334.05 411.28,331.71 412.54,329.02 413.79,327.08 415.05,325.25 416.93,318.97 418.19,312.69 419.45,302.64 420.7,295.1 422.59,290.08 423.84,285.05 425.1,288.82 426.36,300.13 427.61,310.18 428.87,316.46 430.13,321.48 432.01,326.51 433.89,329.65 435.78,334.05 437.66,337.81 438.92,339.09 440.18,340.33 441.43,340.64 442.69,340.95 444.5,341.6 445.81,341.64 447.12,341.68 448.44,341.71 449.75,341.75 451.06,341.79 452.38,341.82 453.69,341.86 455,341.9" fill="none" stroke="#000" stroke-width="2.1" stroke-linejoin="round"/><polyline points="394.4,341.2 395.77,340.85 397.15,340.79 398.52,340.46 399.9,340 401.17,339.57 402.45,339.09 403.73,338.43 405,337.81 406.26,336.49 407.51,335.3 408.77,332.51 410.03,330.28 411.28,326.74 412.54,322.74 414.42,315.2 416.31,308.92 418.19,305.15 419.45,301.38 420.7,302.01 421.96,305.15 423.84,304.52 425.73,306.41 426.98,311.43 428.24,316.46 430.13,322.74 432.01,329.02 433.27,332.12 434.52,334.05 435.78,336.22 437.04,337.81 438.61,338.77 440.18,339.7 441.43,340.05 442.69,340.3 443.94,340.72 445.2,340.95 446.46,341 447.71,341.05 448.97,341.1 450.23,341.14 451.48,341.19 452.74,341.24 453.99,341.28 455.25,341.33 456.44,341.4 457.63,341.47 458.81,341.53 460,341.6 461.29,341.6 462.59,341.61 463.88,341.61 465.17,341.62 466.47,341.62 467.76,341.63 469.06,341.63 470.35,341.63 471.64,341.64 472.94,341.64 474.23,341.65 475.52,341.65 476.82,341.66 478.11,341.66 479.4,341.66 480.7,341.67 481.99,341.67 483.29,341.68 484.58,341.68 485.87,341.69 487.17,341.69 488.46,341.69 489.75,341.7 491.05,341.7 492.34,341.71 493.63,341.71 494.93,341.71 496.22,341.72 497.51,341.72 498.81,341.73 500.1,341.73 501.4,341.74 502.69,341.74 503.98,341.74 505.28,341.75 506.57,341.75 507.86,341.76 509.16,341.76 510.45,341.77 511.74,341.77 513.04,341.77 514.33,341.78 515.63,341.78 516.92,341.79 518.21,341.79 519.51,341.8 520.8,341.8" fill="none" stroke="#ff0000" stroke-width="2.1" stroke-linejoin="round"/><path d="M394 258 H520.8 V342.5" fill="none" stroke="#333" stroke-width="1.1"/><path d="M394 258 V342.5 H520.8" fill="none" stroke="#000" stroke-width="1.25"/><line x1="391.8" y1="258" x2="394" y2="258" stroke="#000" stroke-width="0.9"/><text transform="translate(389.2 260.2) scale(1.1 1)" font-size="6.4" text-anchor="end" font-weight="normal" fill="#111" >105</text><line x1="392.6" y1="263.28" x2="394" y2="263.28" stroke="#333" stroke-width="0.6"/><line x1="392.6" y1="268.56" x2="394" y2="268.56" stroke="#333" stroke-width="0.6"/><line x1="392.6" y1="273.84" x2="394" y2="273.84" stroke="#333" stroke-width="0.6"/><line x1="391.8" y1="279.12" x2="394" y2="279.12" stroke="#000" stroke-width="0.9"/><text transform="translate(389.2 281.32) scale(1.1 1)" font-size="6.4" text-anchor="end" font-weight="normal" fill="#111" >79</text><line x1="392.6" y1="284.41" x2="394" y2="284.41" stroke="#333" stroke-width="0.6"/><line x1="392.6" y1="289.69" x2="394" y2="289.69" stroke="#333" stroke-width="0.6"/><line x1="392.6" y1="294.97" x2="394" y2="294.97" stroke="#333" stroke-width="0.6"/><line x1="391.8" y1="300.25" x2="394" y2="300.25" stroke="#000" stroke-width="0.9"/><text transform="translate(389.2 302.45) scale(1.1 1)" font-size="6.4" text-anchor="end" font-weight="normal" fill="#111" >53</text><line x1="392.6" y1="305.53" x2="394" y2="305.53" stroke="#333" stroke-width="0.6"/><line x1="392.6" y1="310.81" x2="394" y2="310.81" stroke="#333" stroke-width="0.6"/><line x1="392.6" y1="316.09" x2="394" y2="316.09" stroke="#333" stroke-width="0.6"/><line x1="391.8" y1="321.38" x2="394" y2="321.38" stroke="#000" stroke-width="0.9"/><text transform="translate(389.2 323.57) scale(1.1 1)" font-size="6.4" text-anchor="end" font-weight="normal" fill="#111" >26</text><line x1="392.6" y1="326.66" x2="394" y2="326.66" stroke="#333" stroke-width="0.6"/><line x1="392.6" y1="331.94" x2="394" y2="331.94" stroke="#333" stroke-width="0.6"/><line x1="392.6" y1="337.22" x2="394" y2="337.22" stroke="#333" stroke-width="0.6"/><line x1="391.8" y1="342.5" x2="394" y2="342.5" stroke="#000" stroke-width="0.9"/><text transform="translate(389.2 344.7) scale(1.1 1)" font-size="6.4" text-anchor="end" font-weight="normal" fill="#111" >0</text><line x1="394" y1="342.5" x2="394" y2="345.5" stroke="#000" stroke-width="0.9"/><line x1="403.54" y1="342.5" x2="403.54" y2="344.5" stroke="#333" stroke-width="0.6"/><line x1="409.12" y1="342.5" x2="409.12" y2="344.5" stroke="#333" stroke-width="0.6"/><line x1="413.09" y1="342.5" x2="413.09" y2="344.5" stroke="#333" stroke-width="0.6"/><line x1="416.16" y1="342.5" x2="416.16" y2="344.5" stroke="#333" stroke-width="0.6"/><line x1="418.67" y1="342.5" x2="418.67" y2="344.5" stroke="#333" stroke-width="0.6"/><line x1="420.79" y1="342.5" x2="420.79" y2="344.5" stroke="#333" stroke-width="0.6"/><line x1="422.63" y1="342.5" x2="422.63" y2="344.5" stroke="#333" stroke-width="0.6"/><line x1="424.25" y1="342.5" x2="424.25" y2="344.5" stroke="#333" stroke-width="0.6"/><text transform="translate(393 356.7) scale(1.1 1)" font-size="6.4" text-anchor="middle" font-weight="normal" fill="#111" >10</text><text transform="translate(397.4 352.5) scale(1.1 1)" font-size="4.8" text-anchor="start" font-weight="normal" fill="#111" >0</text><line x1="425.7" y1="342.5" x2="425.7" y2="345.5" stroke="#000" stroke-width="0.9"/><line x1="435.24" y1="342.5" x2="435.24" y2="344.5" stroke="#333" stroke-width="0.6"/><line x1="440.82" y1="342.5" x2="440.82" y2="344.5" stroke="#333" stroke-width="0.6"/><line x1="444.79" y1="342.5" x2="444.79" y2="344.5" stroke="#333" stroke-width="0.6"/><line x1="447.86" y1="342.5" x2="447.86" y2="344.5" stroke="#333" stroke-width="0.6"/><line x1="450.37" y1="342.5" x2="450.37" y2="344.5" stroke="#333" stroke-width="0.6"/><line x1="452.49" y1="342.5" x2="452.49" y2="344.5" stroke="#333" stroke-width="0.6"/><line x1="454.33" y1="342.5" x2="454.33" y2="344.5" stroke="#333" stroke-width="0.6"/><line x1="455.95" y1="342.5" x2="455.95" y2="344.5" stroke="#333" stroke-width="0.6"/><text transform="translate(424.7 356.7) scale(1.1 1)" font-size="6.4" text-anchor="middle" font-weight="normal" fill="#111" >10</text><text transform="translate(429.1 352.5) scale(1.1 1)" font-size="4.8" text-anchor="start" font-weight="normal" fill="#111" >1</text><line x1="457.4" y1="342.5" x2="457.4" y2="345.5" stroke="#000" stroke-width="0.9"/><line x1="466.94" y1="342.5" x2="466.94" y2="344.5" stroke="#333" stroke-width="0.6"/><line x1="472.52" y1="342.5" x2="472.52" y2="344.5" stroke="#333" stroke-width="0.6"/><line x1="476.49" y1="342.5" x2="476.49" y2="344.5" stroke="#333" stroke-width="0.6"/><line x1="479.56" y1="342.5" x2="479.56" y2="344.5" stroke="#333" stroke-width="0.6"/><line x1="482.07" y1="342.5" x2="482.07" y2="344.5" stroke="#333" stroke-width="0.6"/><line x1="484.19" y1="342.5" x2="484.19" y2="344.5" stroke="#333" stroke-width="0.6"/><line x1="486.03" y1="342.5" x2="486.03" y2="344.5" stroke="#333" stroke-width="0.6"/><line x1="487.65" y1="342.5" x2="487.65" y2="344.5" stroke="#333" stroke-width="0.6"/><text transform="translate(456.4 356.7) scale(1.1 1)" font-size="6.4" text-anchor="middle" font-weight="normal" fill="#111" >10</text><text transform="translate(460.8 352.5) scale(1.1 1)" font-size="4.8" text-anchor="start" font-weight="normal" fill="#111" >2</text><line x1="489.1" y1="342.5" x2="489.1" y2="345.5" stroke="#000" stroke-width="0.9"/><line x1="498.64" y1="342.5" x2="498.64" y2="344.5" stroke="#333" stroke-width="0.6"/><line x1="504.22" y1="342.5" x2="504.22" y2="344.5" stroke="#333" stroke-width="0.6"/><line x1="508.19" y1="342.5" x2="508.19" y2="344.5" stroke="#333" stroke-width="0.6"/><line x1="511.26" y1="342.5" x2="511.26" y2="344.5" stroke="#333" stroke-width="0.6"/><line x1="513.77" y1="342.5" x2="513.77" y2="344.5" stroke="#333" stroke-width="0.6"/><line x1="515.89" y1="342.5" x2="515.89" y2="344.5" stroke="#333" stroke-width="0.6"/><line x1="517.73" y1="342.5" x2="517.73" y2="344.5" stroke="#333" stroke-width="0.6"/><line x1="519.35" y1="342.5" x2="519.35" y2="344.5" stroke="#333" stroke-width="0.6"/><text transform="translate(488.1 356.7) scale(1.1 1)" font-size="6.4" text-anchor="middle" font-weight="normal" fill="#111" >10</text><text transform="translate(492.5 352.5) scale(1.1 1)" font-size="4.8" text-anchor="start" font-weight="normal" fill="#111" >3</text><line x1="520.8" y1="342.5" x2="520.8" y2="345.5" stroke="#000" stroke-width="0.9"/><text transform="translate(519.8 356.7) scale(1.1 1)" font-size="6.4" text-anchor="middle" font-weight="normal" fill="#111" >10</text><text transform="translate(524.2 352.5) scale(1.1 1)" font-size="4.8" text-anchor="start" font-weight="normal" fill="#d8d8d8" class="ns">4</text><text transform="translate(376.9 300.6) scale(1.28 1) rotate(-90)" font-size="7.7" text-anchor="middle" font-weight="normal" fill="#111" >Count</text><rect x="465.7" y="262.5" width="6.8" height="7.4" fill="#d2d2d2"/><text transform="translate(476.2 270.1) scale(1.01 1)" font-size="10.2" text-anchor="start" font-weight="normal" fill="#111" >Bckgnd</text><rect x="465.7" y="275" width="6.8" height="7.4" fill="#808080"/><text transform="translate(476.2 282.6) scale(1.01 1)" font-size="10.2" text-anchor="start" font-weight="normal" fill="#111" >Control</text><rect x="465.7" y="287.5" width="6.8" height="7.4" fill="#000"/><text transform="translate(476.2 295.1) scale(1.01 1)" font-size="10.2" text-anchor="start" font-weight="normal" fill="#111" >&#945;SHP2.1</text><rect x="465.7" y="300" width="6.8" height="7.4" fill="#ff0000"/><text transform="translate(476.2 307.6) scale(1.01 1)" font-size="10.2" text-anchor="start" font-weight="normal" fill="#111" >&#945;SHP2.2</text><text x="391.3" y="370.3" font-size="12.6" text-anchor="start" font-weight="bold" fill="#000" >SHP2</text><line x1="424.4" y1="367.4" x2="445.2" y2="367.4" stroke="#000" stroke-width="1.3"/><polygon points="443.2,364.7 450.2,367.4 443.2,370.1" fill="#000"/><text x="357" y="249.8" font-size="13.4" text-anchor="start" font-weight="bold" fill="#000" >G</text><circle cx="363" cy="254" r="0.6" fill="#666"/><polygon points="32.5,517.5 32.8,503.6 32.29,507.36 33.44,505.25 34.58,502.78 36.11,498.2 37.63,493.62 38.78,487.62 39.92,481.4 41.07,475.61 42.21,469.19 43.36,462.07 44.5,455.45 45.5,451.46 46.49,446.59 48.32,455.45 49.47,459.79 50.61,466.13 51.76,470.24 52.9,475.29 54.43,482.93 55.95,495.14 57.1,500.58 58.24,505.83 59.39,509.57 60.53,513.46 62.37,517.5 62.37,517.5" fill="#c0c0c0"/><polyline points="32.6,516.9 33.87,516.88 35.14,516.85 36.41,516.83 37.68,516.8 38.94,516.78 40.21,516.76 41.48,516.73 42.75,516.71 44.02,516.68 45.29,516.66 46.56,516.64 47.83,516.61 49.09,516.59 50.36,516.56 51.63,516.54 52.9,516.52 54.43,515.68 55.95,514.99 57.48,513.78 59.01,511.94 60.53,510.05 62.06,507.36 63.59,504.19 65.11,501.25 66.64,497.11 68.17,493.62 69.31,489.83 70.46,485.98 71.6,482.04 72.75,478.35 73.89,475.1 75.04,470.71 76.18,466.48 77.33,464.61 78.85,466.13 80,468.66 81.15,470.71 82.67,476.82 84.2,484.45 85.73,495.14 87.25,504.3 88.78,511.94 90,514.99 91.25,515.29 92.5,515.7 93.72,516 94.95,516.3 96.18,516.6 97.4,516.9 98.66,516.9 99.92,516.9 101.18,516.9 102.44,516.9 103.7,516.9 104.96,516.9 106.22,516.9 107.48,516.9 108.74,516.9 110,516.9" fill="none" stroke="#8a8a8a" stroke-width="2.2" stroke-linejoin="round"/><polyline points="32.6,516.9 32.8,512.1 32.29,511.94 33.44,511.47 34.58,511.17 36.11,509.53 37.63,508.88 39.16,507.75 40.69,505.07 42.21,501.29 43.74,498.96 44.89,498.25 46.03,497.43 47.18,497.81 48.32,498.2 49.85,499.72 50.99,497.45 52.14,496.67 53.28,494.69 54.43,492.09 55.57,489.35 56.72,488.27 57.86,486.31 59.01,484.45 60.53,478.35 62.06,475.29 62.82,471.48 64.35,474.53 65.88,479.87 67.4,487.51 68.93,496.67 70.46,505.83 71.6,508.44 72.75,511.94 74.27,513.41 75.8,514.99 77.33,515.46 78.85,516.06 80.09,516.15 81.33,516.25 82.57,516.34 83.81,516.43 85.05,516.53 86.28,516.62 87.52,516.71 88.76,516.81 90,516.9" fill="none" stroke="#000" stroke-width="2.1" stroke-linejoin="round"/><polyline points="32.6,516.9 33.91,516.52 35.22,516.14 36.54,515.59 37.85,515.08 39.16,514.99 40.31,513.65 41.45,512.7 42.6,512.01 43.74,511.94 45.27,508.88 46.41,506.6 47.56,504.3 48.7,503.1 49.85,499.72 51.37,497.13 52.9,493.62 54.05,490.16 55.19,485.98 56.34,480.8 57.48,475.29 59.01,466.13 60.53,456.97 62.06,449.34 63.28,445.52 65.11,452.39 66.64,461.55 68.17,475.29 69.69,489.04 71.22,504.3 72.75,513.46 74.27,514.66 75.8,516.52 77.11,516.52 78.41,516.53 79.72,516.53 81.03,516.54 82.33,516.55 83.64,516.55 84.94,516.56 86.25,516.56 87.56,516.57 88.86,516.57 90.17,516.58 91.47,516.59 92.78,516.59 94.09,516.6 95.39,516.6 96.7,516.61 98,516.61 99.31,516.62 100.62,516.63 101.92,516.63 103.23,516.64 104.53,516.64 105.84,516.65 107.15,516.66 108.45,516.66 109.76,516.67 111.06,516.67 112.37,516.68 113.68,516.68 114.98,516.69 116.29,516.7 117.59,516.7 118.9,516.71 120.21,516.71 121.51,516.72 122.82,516.73 124.12,516.73 125.43,516.74 126.74,516.74 128.04,516.75 129.35,516.75 130.66,516.76 131.96,516.77 133.27,516.77 134.57,516.78 135.88,516.78 137.19,516.79 138.49,516.8 139.8,516.8 141.1,516.81 142.41,516.81 143.72,516.82 145.02,516.82 146.33,516.83 147.63,516.84 148.94,516.84 150.25,516.85 151.55,516.85 152.86,516.86 154.16,516.87 155.47,516.87 156.78,516.88 158.08,516.88 159.39,516.89 160.69,516.89 162,516.9" fill="none" stroke="#ff0000" stroke-width="2.1" stroke-linejoin="round"/><path d="M32.5 433.3 H162 V517.5" fill="none" stroke="#5a5a5a" stroke-width="1.1"/><path d="M32.5 433.3 V517.5 H162" fill="none" stroke="#000" stroke-width="1.25"/><line x1="30.3" y1="433.3" x2="32.5" y2="433.3" stroke="#000" stroke-width="0.9"/><text transform="translate(27.7 435.5) scale(1.1 1)" font-size="6.4" text-anchor="end" font-weight="normal" fill="#111" >120</text><line x1="31.1" y1="438.56" x2="32.5" y2="438.56" stroke="#333" stroke-width="0.6"/><line x1="31.1" y1="443.82" x2="32.5" y2="443.82" stroke="#333" stroke-width="0.6"/><line x1="31.1" y1="449.09" x2="32.5" y2="449.09" stroke="#333" stroke-width="0.6"/><line x1="30.3" y1="454.35" x2="32.5" y2="454.35" stroke="#000" stroke-width="0.9"/><text transform="translate(27.7 456.55) scale(1.1 1)" font-size="6.4" text-anchor="end" font-weight="normal" fill="#111" >90</text><line x1="31.1" y1="459.61" x2="32.5" y2="459.61" stroke="#333" stroke-width="0.6"/><line x1="31.1" y1="464.88" x2="32.5" y2="464.88" stroke="#333" stroke-width="0.6"/><line x1="31.1" y1="470.14" x2="32.5" y2="470.14" stroke="#333" stroke-width="0.6"/><line x1="30.3" y1="475.4" x2="32.5" y2="475.4" stroke="#000" stroke-width="0.9"/><text transform="translate(27.7 477.6) scale(1.1 1)" font-size="6.4" text-anchor="end" font-weight="normal" fill="#111" >60</text><line x1="31.1" y1="480.66" x2="32.5" y2="480.66" stroke="#333" stroke-width="0.6"/><line x1="31.1" y1="485.92" x2="32.5" y2="485.92" stroke="#333" stroke-width="0.6"/><line x1="31.1" y1="491.19" x2="32.5" y2="491.19" stroke="#333" stroke-width="0.6"/><line x1="30.3" y1="496.45" x2="32.5" y2="496.45" stroke="#000" stroke-width="0.9"/><text transform="translate(27.7 498.65) scale(1.1 1)" font-size="6.4" text-anchor="end" font-weight="normal" fill="#111" >30</text><line x1="31.1" y1="501.71" x2="32.5" y2="501.71" stroke="#333" stroke-width="0.6"/><line x1="31.1" y1="506.97" x2="32.5" y2="506.97" stroke="#333" stroke-width="0.6"/><line x1="31.1" y1="512.24" x2="32.5" y2="512.24" stroke="#333" stroke-width="0.6"/><line x1="30.3" y1="517.5" x2="32.5" y2="517.5" stroke="#000" stroke-width="0.9"/><text transform="translate(27.7 519.7) scale(1.1 1)" font-size="6.4" text-anchor="end" font-weight="normal" fill="#111" >0</text><line x1="32.5" y1="517.5" x2="32.5" y2="520.5" stroke="#000" stroke-width="0.9"/><line x1="42.25" y1="517.5" x2="42.25" y2="519.5" stroke="#333" stroke-width="0.6"/><line x1="47.95" y1="517.5" x2="47.95" y2="519.5" stroke="#333" stroke-width="0.6"/><line x1="51.99" y1="517.5" x2="51.99" y2="519.5" stroke="#333" stroke-width="0.6"/><line x1="55.13" y1="517.5" x2="55.13" y2="519.5" stroke="#333" stroke-width="0.6"/><line x1="57.69" y1="517.5" x2="57.69" y2="519.5" stroke="#333" stroke-width="0.6"/><line x1="59.86" y1="517.5" x2="59.86" y2="519.5" stroke="#333" stroke-width="0.6"/><line x1="61.74" y1="517.5" x2="61.74" y2="519.5" stroke="#333" stroke-width="0.6"/><line x1="63.39" y1="517.5" x2="63.39" y2="519.5" stroke="#333" stroke-width="0.6"/><text transform="translate(31.5 531.7) scale(1.1 1)" font-size="6.4" text-anchor="middle" font-weight="normal" fill="#111" >10</text><text transform="translate(35.9 527.5) scale(1.1 1)" font-size="4.8" text-anchor="start" font-weight="normal" fill="#111" >0</text><line x1="64.88" y1="517.5" x2="64.88" y2="520.5" stroke="#000" stroke-width="0.9"/><line x1="74.62" y1="517.5" x2="74.62" y2="519.5" stroke="#333" stroke-width="0.6"/><line x1="80.32" y1="517.5" x2="80.32" y2="519.5" stroke="#333" stroke-width="0.6"/><line x1="84.37" y1="517.5" x2="84.37" y2="519.5" stroke="#333" stroke-width="0.6"/><line x1="87.5" y1="517.5" x2="87.5" y2="519.5" stroke="#333" stroke-width="0.6"/><line x1="90.07" y1="517.5" x2="90.07" y2="519.5" stroke="#333" stroke-width="0.6"/><line x1="92.24" y1="517.5" x2="92.24" y2="519.5" stroke="#333" stroke-width="0.6"/><line x1="94.11" y1="517.5" x2="94.11" y2="519.5" stroke="#333" stroke-width="0.6"/><line x1="95.77" y1="517.5" x2="95.77" y2="519.5" stroke="#333" stroke-width="0.6"/><text transform="translate(63.88 531.7) scale(1.1 1)" font-size="6.4" text-anchor="middle" font-weight="normal" fill="#111" >10</text><text transform="translate(68.28 527.5) scale(1.1 1)" font-size="4.8" text-anchor="start" font-weight="normal" fill="#111" >1</text><line x1="97.25" y1="517.5" x2="97.25" y2="520.5" stroke="#000" stroke-width="0.9"/><line x1="107" y1="517.5" x2="107" y2="519.5" stroke="#333" stroke-width="0.6"/><line x1="112.7" y1="517.5" x2="112.7" y2="519.5" stroke="#333" stroke-width="0.6"/><line x1="116.74" y1="517.5" x2="116.74" y2="519.5" stroke="#333" stroke-width="0.6"/><line x1="119.88" y1="517.5" x2="119.88" y2="519.5" stroke="#333" stroke-width="0.6"/><line x1="122.44" y1="517.5" x2="122.44" y2="519.5" stroke="#333" stroke-width="0.6"/><line x1="124.61" y1="517.5" x2="124.61" y2="519.5" stroke="#333" stroke-width="0.6"/><line x1="126.49" y1="517.5" x2="126.49" y2="519.5" stroke="#333" stroke-width="0.6"/><line x1="128.14" y1="517.5" x2="128.14" y2="519.5" stroke="#333" stroke-width="0.6"/><text transform="translate(96.25 531.7) scale(1.1 1)" font-size="6.4" text-anchor="middle" font-weight="normal" fill="#111" >10</text><text transform="translate(100.65 527.5) scale(1.1 1)" font-size="4.8" text-anchor="start" font-weight="normal" fill="#111" >2</text><line x1="129.62" y1="517.5" x2="129.62" y2="520.5" stroke="#000" stroke-width="0.9"/><line x1="139.37" y1="517.5" x2="139.37" y2="519.5" stroke="#333" stroke-width="0.6"/><line x1="145.07" y1="517.5" x2="145.07" y2="519.5" stroke="#333" stroke-width="0.6"/><line x1="149.12" y1="517.5" x2="149.12" y2="519.5" stroke="#333" stroke-width="0.6"/><line x1="152.25" y1="517.5" x2="152.25" y2="519.5" stroke="#333" stroke-width="0.6"/><line x1="154.82" y1="517.5" x2="154.82" y2="519.5" stroke="#333" stroke-width="0.6"/><line x1="156.99" y1="517.5" x2="156.99" y2="519.5" stroke="#333" stroke-width="0.6"/><line x1="158.86" y1="517.5" x2="158.86" y2="519.5" stroke="#333" stroke-width="0.6"/><line x1="160.52" y1="517.5" x2="160.52" y2="519.5" stroke="#333" stroke-width="0.6"/><text transform="translate(128.62 531.7) scale(1.1 1)" font-size="6.4" text-anchor="middle" font-weight="normal" fill="#111" >10</text><text transform="translate(133.03 527.5) scale(1.1 1)" font-size="4.8" text-anchor="start" font-weight="normal" fill="#111" >3</text><line x1="162" y1="517.5" x2="162" y2="520.5" stroke="#000" stroke-width="0.9"/><text transform="translate(161 531.7) scale(1.1 1)" font-size="6.4" text-anchor="middle" font-weight="normal" fill="#111" >10</text><text transform="translate(165.4 527.5) scale(1.1 1)" font-size="4.8" text-anchor="start" font-weight="normal" fill="#d8d8d8" class="ns">4</text><text transform="translate(15 475.3) scale(1.28 1) rotate(-90)" font-size="7.7" text-anchor="middle" font-weight="normal" fill="#111" >Count</text><rect x="106.5" y="438.9" width="6.8" height="7.4" fill="#d2d2d2"/><text transform="translate(117 446.5) scale(1.01 1)" font-size="10.2" text-anchor="start" font-weight="normal" fill="#111" >Bckgnd</text><rect x="106.5" y="451.1" width="6.8" height="7.4" fill="#808080"/><text transform="translate(117 458.7) scale(1.01 1)" font-size="10.2" text-anchor="start" font-weight="normal" fill="#111" >Control</text><rect x="106.5" y="463.3" width="6.8" height="7.4" fill="#000"/><text transform="translate(117 470.9) scale(1.01 1)" font-size="10.2" text-anchor="start" font-weight="normal" fill="#111" >&#945;SHP2.1</text><rect x="106.5" y="475.5" width="6.8" height="7.4" fill="#ff0000"/><text transform="translate(117 483.1) scale(1.01 1)" font-size="10.2" text-anchor="start" font-weight="normal" fill="#111" >&#945;SHP2.2</text><text x="30.3" y="545.4" font-size="12.6" text-anchor="start" font-weight="bold" fill="#000" >SHP2</text><line x1="66.1" y1="540.5" x2="87.2" y2="540.5" stroke="#000" stroke-width="1.3"/><polygon points="85.2,537.8 92.2,540.5 85.2,543.2" fill="#000"/><text x="1.3" y="419.5" font-size="13.4" text-anchor="start" font-weight="bold" fill="#000" >I</text><circle cx="2" cy="430" r="0.6" fill="#666"/><rect x="271.1" y="105.39" width="8.6" height="10.91" fill="#000"/><line x1="275.4" y1="105.39" x2="275.4" y2="97.53" stroke="#222" stroke-width="1"/><line x1="273.2" y1="97.53" x2="277.6" y2="97.53" stroke="#222" stroke-width="1"/><rect x="294.3" y="63.39" width="8.6" height="52.91" fill="#000"/><line x1="298.6" y1="63.39" x2="298.6" y2="60.44" stroke="#222" stroke-width="1"/><line x1="296.4" y1="60.44" x2="300.8" y2="60.44" stroke="#222" stroke-width="1"/><rect x="317.3" y="49.53" width="8.6" height="66.77" fill="#000"/><line x1="321.6" y1="49.53" x2="321.6" y2="31.2" stroke="#222" stroke-width="1"/><line x1="319.4" y1="31.2" x2="323.8" y2="31.2" stroke="#222" stroke-width="1"/><line x1="263.8" y1="7.2" x2="263.8" y2="116.3" stroke="#6e6e6e" stroke-width="1.1"/><line x1="260.2" y1="116.3" x2="263.8" y2="116.3" stroke="#6e6e6e" stroke-width="1"/><text x="253.1" y="120.3" font-size="12.2" text-anchor="end" font-weight="normal" fill="#111" >0</text><line x1="260.2" y1="94.48" x2="263.8" y2="94.48" stroke="#6e6e6e" stroke-width="1"/><text x="253.1" y="98.48" font-size="12.2" text-anchor="end" font-weight="normal" fill="#111" >2</text><line x1="260.2" y1="72.66" x2="263.8" y2="72.66" stroke="#6e6e6e" stroke-width="1"/><text x="253.1" y="76.66" font-size="12.2" text-anchor="end" font-weight="normal" fill="#111" >4</text><line x1="260.2" y1="50.84" x2="263.8" y2="50.84" stroke="#6e6e6e" stroke-width="1"/><text x="253.1" y="54.84" font-size="12.2" text-anchor="end" font-weight="normal" fill="#111" >6</text><line x1="260.2" y1="29.02" x2="263.8" y2="29.02" stroke="#6e6e6e" stroke-width="1"/><text x="253.1" y="33.02" font-size="12.2" text-anchor="end" font-weight="normal" fill="#111" >8</text><line x1="260.2" y1="7.2" x2="263.8" y2="7.2" stroke="#6e6e6e" stroke-width="1"/><text x="253.1" y="11.2" font-size="12.2" text-anchor="end" font-weight="normal" fill="#111" >10</text><line x1="259.9" y1="116.3" x2="333.8" y2="116.3" stroke="#6e6e6e" stroke-width="1.1"/><line x1="263.8" y1="116.3" x2="263.8" y2="119.6" stroke="#6e6e6e" stroke-width="1"/><line x1="287" y1="116.3" x2="287" y2="119.6" stroke="#6e6e6e" stroke-width="1"/><line x1="310.2" y1="116.3" x2="310.2" y2="119.6" stroke="#6e6e6e" stroke-width="1"/><line x1="333.4" y1="116.3" x2="333.4" y2="119.6" stroke="#6e6e6e" stroke-width="1"/><path d="M275.5 37.5 V33.5 H297.5 V37.5" fill="none" stroke="#1a1a1a" stroke-width="1.15" stroke-linejoin="round" stroke-linecap="round"/><polygon points="281.7,26.4 282.41,27.83 283.98,28.06 282.84,29.17 283.11,30.74 281.7,30 280.29,30.74 280.56,29.17 279.42,28.06 280.99,27.83" fill="#111"/><polygon points="286.7,26.4 287.41,27.83 288.98,28.06 287.84,29.17 288.11,30.74 286.7,30 285.29,30.74 285.56,29.17 284.42,28.06 285.99,27.83" fill="#111"/><polygon points="291.7,26.4 292.41,27.83 293.98,28.06 292.84,29.17 293.11,30.74 291.7,30 290.29,30.74 290.56,29.17 289.42,28.06 290.99,27.83" fill="#111"/><path d="M275.5 21.3 V17.5 H321.5 V21.3" fill="none" stroke="#1a1a1a" stroke-width="1.15" stroke-linejoin="round" stroke-linecap="round"/><polygon points="299.2,11.4 299.91,12.83 301.48,13.06 300.34,14.17 300.61,15.74 299.2,15 297.79,15.74 298.06,14.17 296.92,13.06 298.49,12.83" fill="#111"/><text transform="translate(279.4 126.8) rotate(-48)" font-size="12.5" text-anchor="end" font-weight="normal" fill="#111" >Control</text><text transform="translate(302.6 126.8) rotate(-48)" font-size="12.5" text-anchor="end" font-weight="normal" fill="#111" >&#945;CEACAM1.1</text><text transform="translate(325.6 126.8) rotate(-48)" font-size="12.5" text-anchor="end" font-weight="normal" fill="#111" >&#945;CEACAM1.2</text><text transform="translate(223.9 65.4) rotate(-90)" font-size="12.6" text-anchor="middle" font-weight="bold" fill="#000" >Relative viral titer</text><text transform="translate(238.8 64.1) rotate(-90)" font-size="12.6" text-anchor="middle" font-weight="bold" fill="#000" >(fold change)</text><text x="188.9" y="11.6" font-size="13.4" text-anchor="start" font-weight="bold" fill="#000" >B</text><rect x="272.7" y="257.15" width="8.2" height="54.65" fill="#000"/><line x1="276.8" y1="257.15" x2="276.8" y2="253.32" stroke="#222" stroke-width="1"/><line x1="274.6" y1="253.32" x2="279" y2="253.32" stroke="#222" stroke-width="1"/><rect x="294.7" y="227.64" width="8.2" height="84.16" fill="#000"/><line x1="298.8" y1="227.64" x2="298.8" y2="219.99" stroke="#222" stroke-width="1"/><line x1="296.6" y1="219.99" x2="301" y2="219.99" stroke="#222" stroke-width="1"/><rect x="316.7" y="234.2" width="8.2" height="77.6" fill="#000"/><line x1="320.8" y1="234.2" x2="320.8" y2="227.64" stroke="#222" stroke-width="1"/><line x1="318.6" y1="227.64" x2="323" y2="227.64" stroke="#222" stroke-width="1"/><line x1="265.8" y1="202.5" x2="265.8" y2="311.8" stroke="#6e6e6e" stroke-width="1.1"/><line x1="262.2" y1="311.8" x2="265.8" y2="311.8" stroke="#6e6e6e" stroke-width="1"/><text x="254.9" y="315.8" font-size="12.2" text-anchor="end" font-weight="normal" fill="#111" >0</text><line x1="262.2" y1="284.48" x2="265.8" y2="284.48" stroke="#6e6e6e" stroke-width="1"/><text x="254.9" y="288.48" font-size="12.2" text-anchor="end" font-weight="normal" fill="#111" >0.5</text><line x1="262.2" y1="257.15" x2="265.8" y2="257.15" stroke="#6e6e6e" stroke-width="1"/><text x="254.9" y="261.15" font-size="12.2" text-anchor="end" font-weight="normal" fill="#111" >1</text><line x1="262.2" y1="229.82" x2="265.8" y2="229.82" stroke="#6e6e6e" stroke-width="1"/><text x="254.9" y="233.82" font-size="12.2" text-anchor="end" font-weight="normal" fill="#111" >1.5</text><line x1="262.2" y1="202.5" x2="265.8" y2="202.5" stroke="#6e6e6e" stroke-width="1"/><text x="254.9" y="206.5" font-size="12.2" text-anchor="end" font-weight="normal" fill="#111" >2</text><line x1="262.4" y1="311.8" x2="331.3" y2="311.8" stroke="#6e6e6e" stroke-width="1.1"/><line x1="265.8" y1="311.8" x2="265.8" y2="315.1" stroke="#6e6e6e" stroke-width="1"/><line x1="287.7" y1="311.8" x2="287.7" y2="315.1" stroke="#6e6e6e" stroke-width="1"/><line x1="309.6" y1="311.8" x2="309.6" y2="315.1" stroke="#6e6e6e" stroke-width="1"/><line x1="331.3" y1="311.8" x2="331.3" y2="315.1" stroke="#6e6e6e" stroke-width="1"/><path d="M277.5 216.6 V212.5 H299.5 V216.6" fill="none" stroke="#1a1a1a" stroke-width="1.15" stroke-linejoin="round" stroke-linecap="round"/><polygon points="284.7,205.9 285.41,207.33 286.98,207.56 285.84,208.67 286.11,210.24 284.7,209.5 283.29,210.24 283.56,208.67 282.42,207.56 283.99,207.33" fill="#111"/><polygon points="289.7,205.9 290.41,207.33 291.98,207.56 290.84,208.67 291.11,210.24 289.7,209.5 288.29,210.24 288.56,208.67 287.42,207.56 288.99,207.33" fill="#111"/><polygon points="294.7,205.9 295.41,207.33 296.98,207.56 295.84,208.67 296.11,210.24 294.7,209.5 293.29,210.24 293.56,208.67 292.42,207.56 293.99,207.33" fill="#111"/><path d="M277.5 202.6 V198.5 H324.5 V202.6" fill="none" stroke="#1a1a1a" stroke-width="1.15" stroke-linejoin="round" stroke-linecap="round"/><polygon points="299.3,190.7 300.01,192.13 301.58,192.36 300.44,193.47 300.71,195.04 299.3,194.3 297.89,195.04 298.16,193.47 297.02,192.36 298.59,192.13" fill="#111"/><polygon points="304.3,190.7 305.01,192.13 306.58,192.36 305.44,193.47 305.71,195.04 304.3,194.3 302.89,195.04 303.16,193.47 302.02,192.36 303.59,192.13" fill="#111"/><text transform="translate(280.8 322.3) rotate(-48)" font-size="12.5" text-anchor="end" font-weight="normal" fill="#111" >Control</text><text transform="translate(302.8 322.3) rotate(-48)" font-size="12.5" text-anchor="end" font-weight="normal" fill="#111" >&#945;CEACAM1.1</text><text transform="translate(324.8 322.3) rotate(-48)" font-size="12.5" text-anchor="end" font-weight="normal" fill="#111" >&#945;CEACAM1.2</text><text transform="translate(216.8 256.6) rotate(-90)" font-size="12.6" text-anchor="middle" font-weight="bold" fill="#000" >Relative viral titer</text><text transform="translate(232.4 254.9) rotate(-90)" font-size="12.6" text-anchor="middle" font-weight="bold" fill="#000" >(fold change)</text><text x="188.4" y="202.7" font-size="13.4" text-anchor="start" font-weight="bold" fill="#000" >F</text><rect x="273.1" y="451.8" width="8.2" height="54.4" fill="#000"/><line x1="277.2" y1="451.8" x2="277.2" y2="449.62" stroke="#222" stroke-width="1"/><line x1="275" y1="449.62" x2="279.4" y2="449.62" stroke="#222" stroke-width="1"/><rect x="295" y="417.53" width="8.2" height="88.67" fill="#000"/><line x1="299.1" y1="417.53" x2="299.1" y2="410.46" stroke="#222" stroke-width="1"/><line x1="296.9" y1="410.46" x2="301.3" y2="410.46" stroke="#222" stroke-width="1"/><rect x="317" y="422.97" width="8.2" height="83.23" fill="#000"/><line x1="321.1" y1="422.97" x2="321.1" y2="415.35" stroke="#222" stroke-width="1"/><line x1="318.9" y1="415.35" x2="323.3" y2="415.35" stroke="#222" stroke-width="1"/><line x1="266.2" y1="397.4" x2="266.2" y2="506.2" stroke="#6e6e6e" stroke-width="1.1"/><line x1="262.6" y1="506.2" x2="266.2" y2="506.2" stroke="#6e6e6e" stroke-width="1"/><text x="255.3" y="510.2" font-size="12.2" text-anchor="end" font-weight="normal" fill="#111" >0</text><line x1="262.6" y1="479" x2="266.2" y2="479" stroke="#6e6e6e" stroke-width="1"/><text x="255.3" y="483" font-size="12.2" text-anchor="end" font-weight="normal" fill="#111" >0.5</text><line x1="262.6" y1="451.8" x2="266.2" y2="451.8" stroke="#6e6e6e" stroke-width="1"/><text x="255.3" y="455.8" font-size="12.2" text-anchor="end" font-weight="normal" fill="#111" >1</text><line x1="262.6" y1="424.6" x2="266.2" y2="424.6" stroke="#6e6e6e" stroke-width="1"/><text x="255.3" y="428.6" font-size="12.2" text-anchor="end" font-weight="normal" fill="#111" >1.5</text><line x1="262.6" y1="397.4" x2="266.2" y2="397.4" stroke="#6e6e6e" stroke-width="1"/><text x="255.3" y="401.4" font-size="12.2" text-anchor="end" font-weight="normal" fill="#111" >2</text><line x1="262.1" y1="506.2" x2="332" y2="506.2" stroke="#6e6e6e" stroke-width="1.1"/><line x1="266.2" y1="506.2" x2="266.2" y2="509.5" stroke="#6e6e6e" stroke-width="1"/><line x1="288" y1="506.2" x2="288" y2="509.5" stroke="#6e6e6e" stroke-width="1"/><line x1="309.8" y1="506.2" x2="309.8" y2="509.5" stroke="#6e6e6e" stroke-width="1"/><line x1="331.7" y1="506.2" x2="331.7" y2="509.5" stroke="#6e6e6e" stroke-width="1"/><path d="M274.5 407.8 V403.5 H297.5 V407.8" fill="none" stroke="#1a1a1a" stroke-width="1.15" stroke-linejoin="round" stroke-linecap="round"/><polygon points="282.1,397.7 282.81,399.13 284.38,399.36 283.24,400.47 283.51,402.04 282.1,401.3 280.69,402.04 280.96,400.47 279.82,399.36 281.39,399.13" fill="#111"/><polygon points="287.1,397.7 287.81,399.13 289.38,399.36 288.24,400.47 288.51,402.04 287.1,401.3 285.69,402.04 285.96,400.47 284.82,399.36 286.39,399.13" fill="#111"/><polygon points="292.1,397.7 292.81,399.13 294.38,399.36 293.24,400.47 293.51,402.04 292.1,401.3 290.69,402.04 290.96,400.47 289.82,399.36 291.39,399.13" fill="#111"/><path d="M274.5 392.5 V388.5 H321.5 V392.5" fill="none" stroke="#1a1a1a" stroke-width="1.15" stroke-linejoin="round" stroke-linecap="round"/><polygon points="293.5,382 294.21,383.43 295.78,383.66 294.64,384.77 294.91,386.34 293.5,385.6 292.09,386.34 292.36,384.77 291.22,383.66 292.79,383.43" fill="#111"/><polygon points="298.5,382 299.21,383.43 300.78,383.66 299.64,384.77 299.91,386.34 298.5,385.6 297.09,386.34 297.36,384.77 296.22,383.66 297.79,383.43" fill="#111"/><polygon points="303.5,382 304.21,383.43 305.78,383.66 304.64,384.77 304.91,386.34 303.5,385.6 302.09,386.34 302.36,384.77 301.22,383.66 302.79,383.43" fill="#111"/><text transform="translate(281.2 516.7) rotate(-48)" font-size="12.5" text-anchor="end" font-weight="normal" fill="#111" >Control</text><text transform="translate(303.1 516.7) rotate(-48)" font-size="12.5" text-anchor="end" font-weight="normal" fill="#111" >&#945;SHP2.1</text><text transform="translate(325.1 516.7) rotate(-48)" font-size="12.5" text-anchor="end" font-weight="normal" fill="#111" >&#945;SHP2.2</text><text transform="translate(217.7 452.6) rotate(-90)" font-size="12.6" text-anchor="middle" font-weight="bold" fill="#000" >Relative viral titer</text><text transform="translate(232.9 451.2) rotate(-90)" font-size="12.6" text-anchor="middle" font-weight="bold" fill="#000" >(fold change)</text><text x="188" y="395.2" font-size="13.4" text-anchor="start" font-weight="bold" fill="#000" >J</text><rect x="633" y="333.18" width="9" height="17.62" fill="#000"/><line x1="637.5" y1="333.18" x2="637.5" y2="332.63" stroke="#222" stroke-width="1"/><line x1="635.3" y1="332.63" x2="639.7" y2="332.63" stroke="#222" stroke-width="1"/><rect x="656.5" y="262.33" width="9" height="88.47" fill="#000"/><line x1="661" y1="262.33" x2="661" y2="258.88" stroke="#222" stroke-width="1"/><line x1="658.8" y1="258.88" x2="663.2" y2="258.88" stroke="#222" stroke-width="1"/><rect x="680.1" y="282.49" width="9" height="68.31" fill="#000"/><line x1="684.6" y1="282.49" x2="684.6" y2="276.13" stroke="#222" stroke-width="1"/><line x1="682.4" y1="276.13" x2="686.8" y2="276.13" stroke="#222" stroke-width="1"/><line x1="625.8" y1="241.8" x2="625.8" y2="350.8" stroke="#6e6e6e" stroke-width="1.1"/><line x1="622.2" y1="350.8" x2="625.8" y2="350.8" stroke="#6e6e6e" stroke-width="1"/><text x="615.4" y="354.8" font-size="12.2" text-anchor="end" font-weight="normal" fill="#111" >0</text><line x1="622.2" y1="314.47" x2="625.8" y2="314.47" stroke="#6e6e6e" stroke-width="1"/><text x="615.4" y="318.47" font-size="12.2" text-anchor="end" font-weight="normal" fill="#111" >2</text><line x1="622.2" y1="278.13" x2="625.8" y2="278.13" stroke="#6e6e6e" stroke-width="1"/><text x="615.4" y="282.13" font-size="12.2" text-anchor="end" font-weight="normal" fill="#111" >4</text><line x1="622.2" y1="241.8" x2="625.8" y2="241.8" stroke="#6e6e6e" stroke-width="1"/><text x="615.4" y="245.8" font-size="12.2" text-anchor="end" font-weight="normal" fill="#111" >6</text><line x1="623" y1="350.8" x2="696.5" y2="350.8" stroke="#6e6e6e" stroke-width="1.1"/><line x1="625.8" y1="350.8" x2="625.8" y2="354.1" stroke="#6e6e6e" stroke-width="1"/><line x1="649.4" y1="350.8" x2="649.4" y2="354.1" stroke="#6e6e6e" stroke-width="1"/><line x1="672.7" y1="350.8" x2="672.7" y2="354.1" stroke="#6e6e6e" stroke-width="1"/><line x1="696" y1="350.8" x2="696" y2="354.1" stroke="#6e6e6e" stroke-width="1"/><path d="M638.5 255.1 V250.5 H660.5 V255.1" fill="none" stroke="#1a1a1a" stroke-width="1.15" stroke-linejoin="round" stroke-linecap="round"/><polygon points="645.5,245.1 646.21,246.53 647.78,246.76 646.64,247.87 646.91,249.44 645.5,248.7 644.09,249.44 644.36,247.87 643.22,246.76 644.79,246.53" fill="#111"/><polygon points="650.5,245.1 651.21,246.53 652.78,246.76 651.64,247.87 651.91,249.44 650.5,248.7 649.09,249.44 649.36,247.87 648.22,246.76 649.79,246.53" fill="#111"/><polygon points="655.5,245.1 656.21,246.53 657.78,246.76 656.64,247.87 656.91,249.44 655.5,248.7 654.09,249.44 654.36,247.87 653.22,246.76 654.79,246.53" fill="#111"/><path d="M638.5 241.5 V237.5 H685.5 V241.5" fill="none" stroke="#1a1a1a" stroke-width="1.15" stroke-linejoin="round" stroke-linecap="round"/><polygon points="660.2,229.3 660.91,230.73 662.48,230.96 661.34,232.07 661.61,233.64 660.2,232.9 658.79,233.64 659.06,232.07 657.92,230.96 659.49,230.73" fill="#111"/><polygon points="665.2,229.3 665.91,230.73 667.48,230.96 666.34,232.07 666.61,233.64 665.2,232.9 663.79,233.64 664.06,232.07 662.92,230.96 664.49,230.73" fill="#111"/><text transform="translate(641.5 361.3) rotate(-48)" font-size="12.5" text-anchor="end" font-weight="normal" fill="#111" >Control</text><text transform="translate(665 361.3) rotate(-48)" font-size="12.5" text-anchor="end" font-weight="normal" fill="#111" >&#945;SHP2.1</text><text transform="translate(688.6 361.3) rotate(-48)" font-size="12.5" text-anchor="end" font-weight="normal" fill="#111" >&#945;SHP2.2</text><text transform="translate(584.9 295.5) rotate(-90)" font-size="12.6" text-anchor="middle" font-weight="bold" fill="#000" >Relative viral titer</text><text transform="translate(600.1 293.5) rotate(-90)" font-size="12.6" text-anchor="middle" font-weight="bold" fill="#000" >(fold change)</text><text x="552" y="249.7" font-size="13.4" text-anchor="start" font-weight="bold" fill="#000" >H</text><rect x="673.1" y="134.24" width="8.2" height="7.86" fill="#000"/><line x1="677.2" y1="134.24" x2="677.2" y2="134.08" stroke="#222" stroke-width="1"/><line x1="675" y1="134.08" x2="679.4" y2="134.08" stroke="#222" stroke-width="1"/><rect x="694.3" y="133.44" width="8.2" height="8.66" fill="#000"/><line x1="698.4" y1="133.44" x2="698.4" y2="133.12" stroke="#222" stroke-width="1"/><line x1="696.2" y1="133.12" x2="700.6" y2="133.12" stroke="#222" stroke-width="1"/><rect x="715.5" y="54.2" width="8.2" height="87.9" fill="#000"/><line x1="719.6" y1="54.2" x2="719.6" y2="48.27" stroke="#222" stroke-width="1"/><line x1="717.4" y1="48.27" x2="721.8" y2="48.27" stroke="#222" stroke-width="1"/><rect x="736.9" y="82.35" width="8.2" height="59.75" fill="#000"/><line x1="741" y1="82.35" x2="741" y2="79.14" stroke="#222" stroke-width="1"/><line x1="738.8" y1="79.14" x2="743.2" y2="79.14" stroke="#222" stroke-width="1"/><line x1="666.6" y1="21.8" x2="666.6" y2="142.1" stroke="#6e6e6e" stroke-width="1.1"/><line x1="663" y1="142.1" x2="666.6" y2="142.1" stroke="#6e6e6e" stroke-width="1"/><text x="655.7" y="146.1" font-size="12" text-anchor="end" font-weight="normal" fill="#111" >0</text><line x1="663" y1="102" x2="666.6" y2="102" stroke="#6e6e6e" stroke-width="1"/><text x="655.7" y="106" font-size="12" text-anchor="end" font-weight="normal" fill="#111" >5</text><line x1="663" y1="61.9" x2="666.6" y2="61.9" stroke="#6e6e6e" stroke-width="1"/><text x="655.7" y="65.9" font-size="12" text-anchor="end" font-weight="normal" fill="#111" >10</text><line x1="663" y1="21.8" x2="666.6" y2="21.8" stroke="#6e6e6e" stroke-width="1"/><text x="655.7" y="25.8" font-size="12" text-anchor="end" font-weight="normal" fill="#111" >15</text><line x1="662.6" y1="142.1" x2="751.5" y2="142.1" stroke="#6e6e6e" stroke-width="1.1"/><line x1="666.6" y1="142.1" x2="666.6" y2="145.4" stroke="#6e6e6e" stroke-width="1"/><line x1="687.3" y1="142.1" x2="687.3" y2="145.4" stroke="#6e6e6e" stroke-width="1"/><line x1="708.7" y1="142.1" x2="708.7" y2="145.4" stroke="#6e6e6e" stroke-width="1"/><line x1="730" y1="142.1" x2="730" y2="145.4" stroke="#6e6e6e" stroke-width="1"/><line x1="751.1" y1="142.1" x2="751.1" y2="145.4" stroke="#6e6e6e" stroke-width="1"/><path d="M678.5 9.3 V5.5 H738.5 V9.3" fill="none" stroke="#1a1a1a" stroke-width="1.15" stroke-linejoin="round" stroke-linecap="round"/><polygon points="704.3,-0.4 705.01,1.03 706.58,1.26 705.44,2.37 705.71,3.94 704.3,3.2 702.89,3.94 703.16,2.37 702.02,1.26 703.59,1.03" fill="#111"/><polygon points="709.3,-0.4 710.01,1.03 711.58,1.26 710.44,2.37 710.71,3.94 709.3,3.2 707.89,3.94 708.16,2.37 707.02,1.26 708.59,1.03" fill="#111"/><polygon points="714.3,-0.4 715.01,1.03 716.58,1.26 715.44,2.37 715.71,3.94 714.3,3.2 712.89,3.94 713.16,2.37 712.02,1.26 713.59,1.03" fill="#111"/><path d="M678.5 21 V17.5 H718.5 V21" fill="none" stroke="#1a1a1a" stroke-width="1.15" stroke-linejoin="round" stroke-linecap="round"/><polygon points="697.2,11.6 697.91,13.03 699.48,13.26 698.34,14.37 698.61,15.94 697.2,15.2 695.79,15.94 696.06,14.37 694.92,13.26 696.49,13.03" fill="#111"/><polygon points="702.2,11.6 702.91,13.03 704.48,13.26 703.34,14.37 703.61,15.94 702.2,15.2 700.79,15.94 701.06,14.37 699.92,13.26 701.49,13.03" fill="#111"/><path d="M697.5 34 V30.5 H737.5 V34" fill="none" stroke="#1a1a1a" stroke-width="1.15" stroke-linejoin="round" stroke-linecap="round"/><polygon points="714.2,23.8 714.91,25.23 716.48,25.46 715.34,26.57 715.61,28.14 714.2,27.4 712.79,28.14 713.06,26.57 711.92,25.46 713.49,25.23" fill="#111"/><polygon points="719.2,23.8 719.91,25.23 721.48,25.46 720.34,26.57 720.61,28.14 719.2,27.4 717.79,28.14 718.06,26.57 716.92,25.46 718.49,25.23" fill="#111"/><polygon points="724.2,23.8 724.91,25.23 726.48,25.46 725.34,26.57 725.61,28.14 724.2,27.4 722.79,28.14 723.06,26.57 721.92,25.46 723.49,25.23" fill="#111"/><path d="M697.5 43.5 V39.5 H719.5 V43.5" fill="none" stroke="#1a1a1a" stroke-width="1.15" stroke-linejoin="round" stroke-linecap="round"/><polygon points="706.3,33.9 707.01,35.33 708.58,35.56 707.44,36.67 707.71,38.24 706.3,37.5 704.89,38.24 705.16,36.67 704.02,35.56 705.59,35.33" fill="#111"/><polygon points="711.3,33.9 712.01,35.33 713.58,35.56 712.44,36.67 712.71,38.24 711.3,37.5 709.89,38.24 710.16,36.67 709.02,35.56 710.59,35.33" fill="#111"/><text transform="translate(591.3 81.8) rotate(-90)" font-size="12.6" text-anchor="middle" font-weight="bold" fill="#000" >Relative fold</text><text transform="translate(606.1 82) rotate(-90)" font-size="12.6" text-anchor="middle" font-weight="bold" fill="#000" >increase in viral titer in</text><text transform="translate(621.2 81.9) rotate(-90)" font-size="12.6" text-anchor="middle" font-weight="bold" fill="#000" >&#945;CEACAM1 vs. control</text><text transform="translate(635.7 80.3) rotate(-90)" font-size="12.6" text-anchor="middle" font-weight="bold" fill="#000" >(fold change)</text><text x="552.8" y="17.4" font-size="13.4" text-anchor="start" font-weight="bold" fill="#000" >D</text><text x="664.2" y="165.4" font-size="10.5" text-anchor="end" font-weight="normal" fill="#111" >&#945;CEACAM1.1</text><path d="M676.2 161.9 h3.6 M678 160.1 v3.6" stroke="#000" stroke-width="1"/><line x1="695.9" y1="162.4" x2="700.5" y2="162.4" stroke="#000" stroke-width="0.9"/><path d="M716.7 161.9 h3.6 M718.5 160.1 v3.6" stroke="#000" stroke-width="1"/><line x1="736.3" y1="162.4" x2="740.9" y2="162.4" stroke="#000" stroke-width="0.9"/><text x="664.2" y="182.4" font-size="10.5" text-anchor="end" font-weight="normal" fill="#111" >&#945;CEACAM1.2</text><line x1="675.7" y1="179.4" x2="680.3" y2="179.4" stroke="#000" stroke-width="0.9"/><path d="M696.4 178.9 h3.6 M698.2 177.1 v3.6" stroke="#000" stroke-width="1"/><line x1="716.2" y1="179.4" x2="720.8" y2="179.4" stroke="#000" stroke-width="0.9"/><path d="M736.8 178.9 h3.6 M738.6 177.1 v3.6" stroke="#000" stroke-width="1"/><text x="664.5" y="200.8" font-size="10.5" text-anchor="end" font-weight="normal" fill="#111" >WT</text><path d="M676.2 197.3 h3.6 M678 195.5 v3.6" stroke="#000" stroke-width="1"/><path d="M696.4 197.3 h3.6 M698.2 195.5 v3.6" stroke="#000" stroke-width="1"/><line x1="716.2" y1="197.8" x2="720.8" y2="197.8" stroke="#000" stroke-width="0.9"/><line x1="736.3" y1="197.8" x2="740.9" y2="197.8" stroke="#000" stroke-width="0.9"/><text x="668.5" y="218.5" font-size="10.5" text-anchor="end" font-weight="normal" fill="#111" >&#916;pp65</text><line x1="675.7" y1="215.5" x2="680.3" y2="215.5" stroke="#000" stroke-width="0.9"/><line x1="695.9" y1="215.5" x2="700.5" y2="215.5" stroke="#000" stroke-width="0.9"/><path d="M716.7 215 h3.6 M718.5 213.2 v3.6" stroke="#000" stroke-width="1"/><path d="M736.8 215 h3.6 M738.6 213.2 v3.6" stroke="#000" stroke-width="1"/>
</svg>
</body></html>
